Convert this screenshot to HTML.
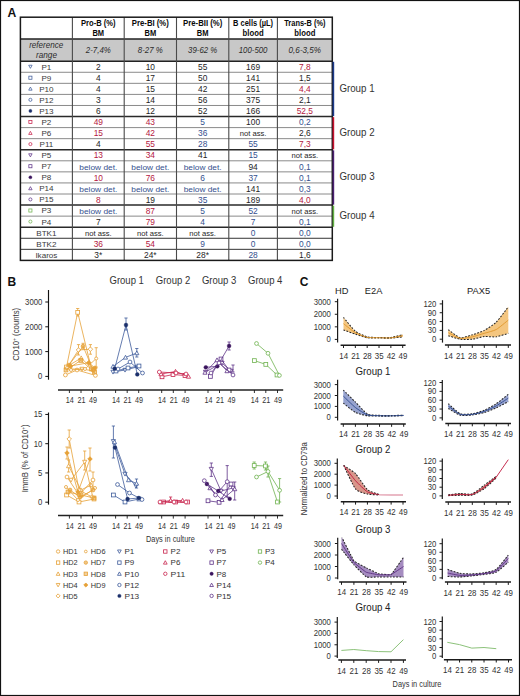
<!DOCTYPE html><html><head><meta charset="utf-8"><style>html,body{margin:0;padding:0;background:#fff;}svg{display:block;}text{font-family:"Liberation Sans", sans-serif;}</style></head><body>
<svg width="520" height="696" viewBox="0 0 520 696">
<rect x="0" y="0" width="520" height="696" fill="#fff"/>
<rect x="0.5" y="0.5" width="519" height="695" fill="none" stroke="#111" stroke-width="1.2"/>
<text x="11.8" y="16.6" font-size="12" fill="#111" text-anchor="middle" font-weight="bold" textLength="8.8" lengthAdjust="spacingAndGlyphs">A</text>
<rect x="20.4" y="39.0" width="311.9" height="22.2" fill="#c8c8c8"/>
<line x1="20.4" y1="72.27" x2="332.3" y2="72.27" stroke="#8a8a8a" stroke-width="1"/>
<line x1="20.4" y1="83.33" x2="332.3" y2="83.33" stroke="#8a8a8a" stroke-width="1"/>
<line x1="20.4" y1="94.4" x2="332.3" y2="94.4" stroke="#8a8a8a" stroke-width="1"/>
<line x1="20.4" y1="105.47" x2="332.3" y2="105.47" stroke="#8a8a8a" stroke-width="1"/>
<line x1="20.4" y1="116.53" x2="332.3" y2="116.53" stroke="#2a2a2a" stroke-width="1.5"/>
<line x1="20.4" y1="127.6" x2="332.3" y2="127.6" stroke="#8a8a8a" stroke-width="1"/>
<line x1="20.4" y1="138.67" x2="332.3" y2="138.67" stroke="#8a8a8a" stroke-width="1"/>
<line x1="20.4" y1="149.73" x2="332.3" y2="149.73" stroke="#2a2a2a" stroke-width="1.5"/>
<line x1="20.4" y1="160.8" x2="332.3" y2="160.8" stroke="#8a8a8a" stroke-width="1"/>
<line x1="20.4" y1="171.87" x2="332.3" y2="171.87" stroke="#8a8a8a" stroke-width="1"/>
<line x1="20.4" y1="182.93" x2="332.3" y2="182.93" stroke="#8a8a8a" stroke-width="1"/>
<line x1="20.4" y1="194" x2="332.3" y2="194" stroke="#8a8a8a" stroke-width="1"/>
<line x1="20.4" y1="205.07" x2="332.3" y2="205.07" stroke="#2a2a2a" stroke-width="1.5"/>
<line x1="20.4" y1="216.13" x2="332.3" y2="216.13" stroke="#8a8a8a" stroke-width="1"/>
<line x1="20.4" y1="227.2" x2="332.3" y2="227.2" stroke="#2a2a2a" stroke-width="1.5"/>
<line x1="20.4" y1="238.27" x2="332.3" y2="238.27" stroke="#333" stroke-width="1"/>
<line x1="20.4" y1="249.33" x2="332.3" y2="249.33" stroke="#333" stroke-width="1"/>
<line x1="20.4" y1="39" x2="332.3" y2="39" stroke="#222" stroke-width="1.4"/>
<line x1="20.4" y1="61.2" x2="332.3" y2="61.2" stroke="#222" stroke-width="1.4"/>
<line x1="72.4" y1="17.2" x2="72.4" y2="260.4" stroke="#4a4a4a" stroke-width="1.1"/>
<line x1="124.2" y1="17.2" x2="124.2" y2="260.4" stroke="#4a4a4a" stroke-width="1.1"/>
<line x1="176.5" y1="17.2" x2="176.5" y2="260.4" stroke="#4a4a4a" stroke-width="1.1"/>
<line x1="228.8" y1="17.2" x2="228.8" y2="260.4" stroke="#4a4a4a" stroke-width="1.1"/>
<line x1="277.4" y1="17.2" x2="277.4" y2="260.4" stroke="#4a4a4a" stroke-width="1.1"/>
<rect x="20.4" y="17.2" width="311.9" height="243.2" fill="none" stroke="#1a1a1a" stroke-width="1.5"/>
<text x="98.3" y="26.3" font-size="8.3" fill="#0a0a0a" text-anchor="middle" font-weight="bold" textLength="34.6" lengthAdjust="spacingAndGlyphs">Pro-B (%)</text>
<text x="98.3" y="35.8" font-size="8.3" fill="#0a0a0a" text-anchor="middle" font-weight="bold" textLength="11.7" lengthAdjust="spacingAndGlyphs">BM</text>
<text x="150.35" y="26.3" font-size="8.3" fill="#0a0a0a" text-anchor="middle" font-weight="bold" textLength="37" lengthAdjust="spacingAndGlyphs">Pre-BI (%)</text>
<text x="150.35" y="35.8" font-size="8.3" fill="#0a0a0a" text-anchor="middle" font-weight="bold" textLength="11.7" lengthAdjust="spacingAndGlyphs">BM</text>
<text x="202.65" y="26.3" font-size="8.3" fill="#0a0a0a" text-anchor="middle" font-weight="bold" textLength="39.2" lengthAdjust="spacingAndGlyphs">Pre-BII (%)</text>
<text x="202.65" y="35.8" font-size="8.3" fill="#0a0a0a" text-anchor="middle" font-weight="bold" textLength="11.7" lengthAdjust="spacingAndGlyphs">BM</text>
<text x="253.1" y="26.3" font-size="8.3" fill="#0a0a0a" text-anchor="middle" font-weight="bold" textLength="40" lengthAdjust="spacingAndGlyphs">B cells (µL)</text>
<text x="253.1" y="35.8" font-size="8.3" fill="#0a0a0a" text-anchor="middle" font-weight="bold" textLength="21" lengthAdjust="spacingAndGlyphs">blood</text>
<text x="304.85" y="26.3" font-size="8.3" fill="#0a0a0a" text-anchor="middle" font-weight="bold" textLength="41.2" lengthAdjust="spacingAndGlyphs">Trans-B (%)</text>
<text x="304.85" y="35.8" font-size="8.3" fill="#0a0a0a" text-anchor="middle" font-weight="bold" textLength="21" lengthAdjust="spacingAndGlyphs">blood</text>
<text x="46.2" y="48.2" font-size="8.3" fill="#2c2c2c" text-anchor="middle" font-style="italic" textLength="34" lengthAdjust="spacingAndGlyphs">reference</text>
<text x="46.5" y="57.6" font-size="8.3" fill="#2c2c2c" text-anchor="middle" font-style="italic" textLength="21" lengthAdjust="spacingAndGlyphs">range</text>
<text x="98.3" y="53.4" font-size="8.3" fill="#2c2c2c" text-anchor="middle" font-style="italic" textLength="25" lengthAdjust="spacingAndGlyphs">2-7,4%</text>
<text x="150.35" y="53.4" font-size="8.3" fill="#2c2c2c" text-anchor="middle" font-style="italic" textLength="25" lengthAdjust="spacingAndGlyphs">8-27 %</text>
<text x="202.65" y="53.4" font-size="8.3" fill="#2c2c2c" text-anchor="middle" font-style="italic" textLength="29.2" lengthAdjust="spacingAndGlyphs">39-62 %</text>
<text x="253.1" y="53.4" font-size="8.3" fill="#2c2c2c" text-anchor="middle" font-style="italic" textLength="28.8" lengthAdjust="spacingAndGlyphs">100-500</text>
<text x="304.85" y="53.4" font-size="8.3" fill="#2c2c2c" text-anchor="middle" font-style="italic" textLength="32.5" lengthAdjust="spacingAndGlyphs">0,6-3,5%</text>
<polygon points="30.4,68.34 32.1,65.24 28.69,65.24" fill="#fff" stroke="#3d5b9a" stroke-width="0.75"/>
<text x="46.4" y="69.6" font-size="8.1" fill="#3a3a3a" text-anchor="middle">P1</text>
<text x="98.3" y="69.9" font-size="8.4" fill="#1e1e1e" text-anchor="middle">2</text>
<text x="150.35" y="69.9" font-size="8.4" fill="#1e1e1e" text-anchor="middle">10</text>
<text x="202.65" y="69.9" font-size="8.4" fill="#1e1e1e" text-anchor="middle">55</text>
<text x="253.1" y="69.9" font-size="8.4" fill="#1e1e1e" text-anchor="middle">169</text>
<text x="304.85" y="69.9" font-size="8.4" fill="#b5173e" text-anchor="middle">7,8</text>
<rect x="28.85" y="76.15" width="3.1" height="3.1" fill="#fff" stroke="#3d5b9a" stroke-width="0.75"/>
<text x="46.4" y="80.67" font-size="8.1" fill="#3a3a3a" text-anchor="middle">P9</text>
<text x="98.3" y="80.97" font-size="8.4" fill="#1e1e1e" text-anchor="middle">4</text>
<text x="150.35" y="80.97" font-size="8.4" fill="#1e1e1e" text-anchor="middle">17</text>
<text x="202.65" y="80.97" font-size="8.4" fill="#1e1e1e" text-anchor="middle">50</text>
<text x="253.1" y="80.97" font-size="8.4" fill="#1e1e1e" text-anchor="middle">141</text>
<text x="304.85" y="80.97" font-size="8.4" fill="#1e1e1e" text-anchor="middle">1,5</text>
<polygon points="30.4,87.06 32.1,90.16 28.69,90.16" fill="#fff" stroke="#3d5b9a" stroke-width="0.75"/>
<text x="46.4" y="91.73" font-size="8.1" fill="#3a3a3a" text-anchor="middle">P10</text>
<text x="98.3" y="92.03" font-size="8.4" fill="#1e1e1e" text-anchor="middle">4</text>
<text x="150.35" y="92.03" font-size="8.4" fill="#1e1e1e" text-anchor="middle">15</text>
<text x="202.65" y="92.03" font-size="8.4" fill="#1e1e1e" text-anchor="middle">42</text>
<text x="253.1" y="92.03" font-size="8.4" fill="#1e1e1e" text-anchor="middle">251</text>
<text x="304.85" y="92.03" font-size="8.4" fill="#b5173e" text-anchor="middle">4,4</text>
<circle cx="30.4" cy="99.83" r="1.55" fill="#fff" stroke="#3d5b9a" stroke-width="0.75"/>
<text x="46.4" y="102.8" font-size="8.1" fill="#3a3a3a" text-anchor="middle">P12</text>
<text x="98.3" y="103.1" font-size="8.4" fill="#1e1e1e" text-anchor="middle">3</text>
<text x="150.35" y="103.1" font-size="8.4" fill="#1e1e1e" text-anchor="middle">14</text>
<text x="202.65" y="103.1" font-size="8.4" fill="#1e1e1e" text-anchor="middle">56</text>
<text x="253.1" y="103.1" font-size="8.4" fill="#1e1e1e" text-anchor="middle">375</text>
<text x="304.85" y="103.1" font-size="8.4" fill="#1e1e1e" text-anchor="middle">2,1</text>
<circle cx="30.4" cy="110.9" r="1.55" fill="#1b2f6b" stroke="#1b2f6b" stroke-width="0.38"/>
<text x="46.4" y="113.87" font-size="8.1" fill="#3a3a3a" text-anchor="middle">P13</text>
<text x="98.3" y="114.17" font-size="8.4" fill="#1e1e1e" text-anchor="middle">6</text>
<text x="150.35" y="114.17" font-size="8.4" fill="#1e1e1e" text-anchor="middle">12</text>
<text x="202.65" y="114.17" font-size="8.4" fill="#1e1e1e" text-anchor="middle">52</text>
<text x="253.1" y="114.17" font-size="8.4" fill="#1e1e1e" text-anchor="middle">166</text>
<text x="304.85" y="114.17" font-size="8.4" fill="#b5173e" text-anchor="middle">52,5</text>
<rect x="28.85" y="120.42" width="3.1" height="3.1" fill="#fff" stroke="#c8234d" stroke-width="0.75"/>
<text x="46.4" y="124.93" font-size="8.1" fill="#3a3a3a" text-anchor="middle">P2</text>
<text x="98.3" y="125.23" font-size="8.4" fill="#b5173e" text-anchor="middle">49</text>
<text x="150.35" y="125.23" font-size="8.4" fill="#b5173e" text-anchor="middle">43</text>
<text x="202.65" y="125.23" font-size="8.4" fill="#34508e" text-anchor="middle">5</text>
<text x="253.1" y="125.23" font-size="8.4" fill="#1e1e1e" text-anchor="middle">100</text>
<text x="304.85" y="125.23" font-size="8.4" fill="#34508e" text-anchor="middle">0,2</text>
<polygon points="30.4,131.33 32.1,134.43 28.69,134.43" fill="#fff" stroke="#c8234d" stroke-width="0.75"/>
<text x="46.4" y="136" font-size="8.1" fill="#3a3a3a" text-anchor="middle">P6</text>
<text x="98.3" y="136.3" font-size="8.4" fill="#b5173e" text-anchor="middle">15</text>
<text x="150.35" y="136.3" font-size="8.4" fill="#b5173e" text-anchor="middle">42</text>
<text x="202.65" y="136.3" font-size="8.4" fill="#34508e" text-anchor="middle">36</text>
<text x="253.1" y="136.3" font-size="7.8" fill="#1e1e1e" text-anchor="middle" textLength="26.7" lengthAdjust="spacingAndGlyphs">not ass.</text>
<text x="304.85" y="136.3" font-size="8.4" fill="#1e1e1e" text-anchor="middle">2,6</text>
<circle cx="30.4" cy="144.1" r="1.55" fill="#fff" stroke="#c8234d" stroke-width="0.75"/>
<text x="46.4" y="147.07" font-size="8.1" fill="#3a3a3a" text-anchor="middle">P11</text>
<text x="98.3" y="147.37" font-size="8.4" fill="#1e1e1e" text-anchor="middle">4</text>
<text x="150.35" y="147.37" font-size="8.4" fill="#b5173e" text-anchor="middle">55</text>
<text x="202.65" y="147.37" font-size="8.4" fill="#34508e" text-anchor="middle">28</text>
<text x="253.1" y="147.37" font-size="8.4" fill="#34508e" text-anchor="middle">55</text>
<text x="304.85" y="147.37" font-size="8.4" fill="#b5173e" text-anchor="middle">7,3</text>
<polygon points="30.4,156.87 32.1,153.77 28.69,153.77" fill="#fff" stroke="#5e3388" stroke-width="0.75"/>
<text x="46.4" y="158.13" font-size="8.1" fill="#3a3a3a" text-anchor="middle">P5</text>
<text x="98.3" y="158.43" font-size="8.4" fill="#b5173e" text-anchor="middle">13</text>
<text x="150.35" y="158.43" font-size="8.4" fill="#b5173e" text-anchor="middle">34</text>
<text x="202.65" y="158.43" font-size="8.4" fill="#1e1e1e" text-anchor="middle">41</text>
<text x="253.1" y="158.43" font-size="8.4" fill="#34508e" text-anchor="middle">15</text>
<text x="304.85" y="158.43" font-size="7.8" fill="#1e1e1e" text-anchor="middle" textLength="26.7" lengthAdjust="spacingAndGlyphs">not ass.</text>
<rect x="28.85" y="164.68" width="3.1" height="3.1" fill="#fff" stroke="#5e3388" stroke-width="0.75"/>
<text x="46.4" y="169.2" font-size="8.1" fill="#3a3a3a" text-anchor="middle">P7</text>
<text x="98.3" y="169.5" font-size="7.8" fill="#34508e" text-anchor="middle" textLength="38" lengthAdjust="spacingAndGlyphs">below det.</text>
<text x="150.35" y="169.5" font-size="7.8" fill="#34508e" text-anchor="middle" textLength="38" lengthAdjust="spacingAndGlyphs">below det.</text>
<text x="202.65" y="169.5" font-size="7.8" fill="#34508e" text-anchor="middle" textLength="38" lengthAdjust="spacingAndGlyphs">below det.</text>
<text x="253.1" y="169.5" font-size="8.4" fill="#1e1e1e" text-anchor="middle">94</text>
<text x="304.85" y="169.5" font-size="8.4" fill="#34508e" text-anchor="middle">0,1</text>
<circle cx="30.4" cy="177.3" r="1.55" fill="#3b145e" stroke="#3b145e" stroke-width="0.38"/>
<text x="46.4" y="180.27" font-size="8.1" fill="#3a3a3a" text-anchor="middle">P8</text>
<text x="98.3" y="180.57" font-size="8.4" fill="#b5173e" text-anchor="middle">10</text>
<text x="150.35" y="180.57" font-size="8.4" fill="#b5173e" text-anchor="middle">76</text>
<text x="202.65" y="180.57" font-size="8.4" fill="#34508e" text-anchor="middle">6</text>
<text x="253.1" y="180.57" font-size="8.4" fill="#34508e" text-anchor="middle">37</text>
<text x="304.85" y="180.57" font-size="8.4" fill="#34508e" text-anchor="middle">0,1</text>
<polygon points="30.4,186.66 32.1,189.76 28.69,189.76" fill="#fff" stroke="#5e3388" stroke-width="0.75"/>
<text x="46.4" y="191.33" font-size="8.1" fill="#3a3a3a" text-anchor="middle">P14</text>
<text x="98.3" y="191.63" font-size="7.8" fill="#34508e" text-anchor="middle" textLength="38" lengthAdjust="spacingAndGlyphs">below det.</text>
<text x="150.35" y="191.63" font-size="7.8" fill="#34508e" text-anchor="middle" textLength="38" lengthAdjust="spacingAndGlyphs">below det.</text>
<text x="202.65" y="191.63" font-size="7.8" fill="#34508e" text-anchor="middle" textLength="38" lengthAdjust="spacingAndGlyphs">below det.</text>
<text x="253.1" y="191.63" font-size="8.4" fill="#1e1e1e" text-anchor="middle">141</text>
<text x="304.85" y="191.63" font-size="8.4" fill="#34508e" text-anchor="middle">0,3</text>
<circle cx="30.4" cy="199.43" r="1.55" fill="#fff" stroke="#5e3388" stroke-width="0.75"/>
<text x="46.4" y="202.4" font-size="8.1" fill="#3a3a3a" text-anchor="middle">P15</text>
<text x="98.3" y="202.7" font-size="8.4" fill="#b5173e" text-anchor="middle">8</text>
<text x="150.35" y="202.7" font-size="8.4" fill="#1e1e1e" text-anchor="middle">19</text>
<text x="202.65" y="202.7" font-size="8.4" fill="#34508e" text-anchor="middle">35</text>
<text x="253.1" y="202.7" font-size="8.4" fill="#1e1e1e" text-anchor="middle">189</text>
<text x="304.85" y="202.7" font-size="8.4" fill="#b5173e" text-anchor="middle">4,0</text>
<rect x="28.85" y="208.95" width="3.1" height="3.1" fill="#fff" stroke="#6fb24f" stroke-width="0.75"/>
<text x="46.4" y="213.47" font-size="8.1" fill="#3a3a3a" text-anchor="middle">P3</text>
<text x="98.3" y="213.77" font-size="7.8" fill="#34508e" text-anchor="middle" textLength="38" lengthAdjust="spacingAndGlyphs">below det.</text>
<text x="150.35" y="213.77" font-size="8.4" fill="#b5173e" text-anchor="middle">87</text>
<text x="202.65" y="213.77" font-size="8.4" fill="#34508e" text-anchor="middle">5</text>
<text x="253.1" y="213.77" font-size="8.4" fill="#34508e" text-anchor="middle">52</text>
<text x="304.85" y="213.77" font-size="7.8" fill="#1e1e1e" text-anchor="middle" textLength="26.7" lengthAdjust="spacingAndGlyphs">not ass.</text>
<circle cx="30.4" cy="221.57" r="1.55" fill="#fff" stroke="#6fb24f" stroke-width="0.75"/>
<text x="46.4" y="224.53" font-size="8.1" fill="#3a3a3a" text-anchor="middle">P4</text>
<text x="98.3" y="224.83" font-size="8.4" fill="#1e1e1e" text-anchor="middle">7</text>
<text x="150.35" y="224.83" font-size="8.4" fill="#b5173e" text-anchor="middle">79</text>
<text x="202.65" y="224.83" font-size="8.4" fill="#34508e" text-anchor="middle">4</text>
<text x="253.1" y="224.83" font-size="8.4" fill="#34508e" text-anchor="middle">7</text>
<text x="304.85" y="224.83" font-size="8.4" fill="#34508e" text-anchor="middle">0,1</text>
<text x="46.4" y="235.6" font-size="8.1" fill="#3a3a3a" text-anchor="middle">BTK1</text>
<text x="98.3" y="235.9" font-size="7.8" fill="#1e1e1e" text-anchor="middle" textLength="26.7" lengthAdjust="spacingAndGlyphs">not ass.</text>
<text x="150.35" y="235.9" font-size="7.8" fill="#1e1e1e" text-anchor="middle" textLength="26.7" lengthAdjust="spacingAndGlyphs">not ass.</text>
<text x="202.65" y="235.9" font-size="7.8" fill="#1e1e1e" text-anchor="middle" textLength="26.7" lengthAdjust="spacingAndGlyphs">not ass.</text>
<text x="253.1" y="235.9" font-size="8.4" fill="#34508e" text-anchor="middle">0</text>
<text x="304.85" y="235.9" font-size="8.4" fill="#34508e" text-anchor="middle">0,0</text>
<text x="46.4" y="246.67" font-size="8.1" fill="#3a3a3a" text-anchor="middle">BTK2</text>
<text x="98.3" y="246.97" font-size="8.4" fill="#b5173e" text-anchor="middle">36</text>
<text x="150.35" y="246.97" font-size="8.4" fill="#b5173e" text-anchor="middle">54</text>
<text x="202.65" y="246.97" font-size="8.4" fill="#34508e" text-anchor="middle">9</text>
<text x="253.1" y="246.97" font-size="8.4" fill="#34508e" text-anchor="middle">0</text>
<text x="304.85" y="246.97" font-size="8.4" fill="#34508e" text-anchor="middle">0,0</text>
<text x="46.4" y="257.73" font-size="8.1" fill="#3a3a3a" text-anchor="middle">Ikaros</text>
<text x="98.3" y="258.03" font-size="8.4" fill="#1e1e1e" text-anchor="middle">3*</text>
<text x="150.35" y="258.03" font-size="8.4" fill="#1e1e1e" text-anchor="middle">24*</text>
<text x="202.65" y="258.03" font-size="8.4" fill="#1e1e1e" text-anchor="middle">28*</text>
<text x="253.1" y="258.03" font-size="8.4" fill="#34508e" text-anchor="middle">28</text>
<text x="304.85" y="258.03" font-size="8.4" fill="#1e1e1e" text-anchor="middle">1,6</text>
<rect x="332.6" y="61.8" width="1.6" height="54.33" fill="#1b3a8c"/>
<text x="339.4" y="91.57" font-size="10.3" fill="#333" text-anchor="start" textLength="35.2" lengthAdjust="spacingAndGlyphs">Group 1</text>
<rect x="332.6" y="117.13" width="1.6" height="32.2" fill="#c8102e"/>
<text x="339.4" y="135.83" font-size="10.3" fill="#333" text-anchor="start" textLength="35.2" lengthAdjust="spacingAndGlyphs">Group 2</text>
<rect x="332.6" y="150.33" width="1.6" height="54.33" fill="#4b1f73"/>
<text x="339.4" y="180.1" font-size="10.3" fill="#333" text-anchor="start" textLength="35.2" lengthAdjust="spacingAndGlyphs">Group 3</text>
<rect x="332.6" y="205.67" width="1.6" height="21.13" fill="#62b043"/>
<text x="339.4" y="218.83" font-size="10.3" fill="#333" text-anchor="start" textLength="35.2" lengthAdjust="spacingAndGlyphs">Group 4</text>
<text x="11.9" y="285.5" font-size="12" fill="#111" text-anchor="middle" font-weight="bold">B</text>
<text x="109.5" y="284.2" font-size="10.4" fill="#333" text-anchor="start" textLength="34.4" lengthAdjust="spacingAndGlyphs">Group 1</text>
<text x="155.8" y="284.2" font-size="10.4" fill="#333" text-anchor="start" textLength="34.4" lengthAdjust="spacingAndGlyphs">Group 2</text>
<text x="201.9" y="284.2" font-size="10.4" fill="#333" text-anchor="start" textLength="34.4" lengthAdjust="spacingAndGlyphs">Group 3</text>
<text x="248" y="284.2" font-size="10.4" fill="#333" text-anchor="start" textLength="34.4" lengthAdjust="spacingAndGlyphs">Group 4</text>
<line x1="48.5" y1="290" x2="48.5" y2="379.7" stroke="#111" stroke-width="1.15"/>
<line x1="45.3" y1="376.4" x2="48.5" y2="376.4" stroke="#111" stroke-width="1"/>
<text x="42.3" y="379.3" font-size="8.2" fill="#333" text-anchor="end" textLength="4.3" lengthAdjust="spacingAndGlyphs">0</text>
<line x1="45.3" y1="351.6" x2="48.5" y2="351.6" stroke="#111" stroke-width="1"/>
<text x="42.3" y="354.5" font-size="8.2" fill="#333" text-anchor="end" textLength="17.2" lengthAdjust="spacingAndGlyphs">1000</text>
<line x1="45.3" y1="326.8" x2="48.5" y2="326.8" stroke="#111" stroke-width="1"/>
<text x="42.3" y="329.7" font-size="8.2" fill="#333" text-anchor="end" textLength="17.2" lengthAdjust="spacingAndGlyphs">2000</text>
<line x1="45.3" y1="302" x2="48.5" y2="302" stroke="#111" stroke-width="1"/>
<text x="42.3" y="304.9" font-size="8.2" fill="#333" text-anchor="end" textLength="17.2" lengthAdjust="spacingAndGlyphs">3000</text>
<line x1="58" y1="390" x2="283.2" y2="390" stroke="#222" stroke-width="1.5"/>
<line x1="69.4" y1="390" x2="69.4" y2="393" stroke="#1a1a1a" stroke-width="0.9"/>
<text x="69.8" y="403" font-size="8.2" fill="#333" text-anchor="middle" textLength="8" lengthAdjust="spacingAndGlyphs">14</text>
<line x1="81" y1="390" x2="81" y2="393" stroke="#1a1a1a" stroke-width="0.9"/>
<text x="81.4" y="403" font-size="8.2" fill="#333" text-anchor="middle" textLength="8" lengthAdjust="spacingAndGlyphs">21</text>
<line x1="92.5" y1="390" x2="92.5" y2="393" stroke="#1a1a1a" stroke-width="0.9"/>
<text x="92.9" y="403" font-size="8.2" fill="#333" text-anchor="middle" textLength="8" lengthAdjust="spacingAndGlyphs">49</text>
<line x1="115.6" y1="390" x2="115.6" y2="393" stroke="#1a1a1a" stroke-width="0.9"/>
<text x="116" y="403" font-size="8.2" fill="#333" text-anchor="middle" textLength="8" lengthAdjust="spacingAndGlyphs">14</text>
<line x1="127.2" y1="390" x2="127.2" y2="393" stroke="#1a1a1a" stroke-width="0.9"/>
<text x="127.6" y="403" font-size="8.2" fill="#333" text-anchor="middle" textLength="8" lengthAdjust="spacingAndGlyphs">21</text>
<line x1="138.7" y1="390" x2="138.7" y2="393" stroke="#1a1a1a" stroke-width="0.9"/>
<text x="139.1" y="403" font-size="8.2" fill="#333" text-anchor="middle" textLength="8" lengthAdjust="spacingAndGlyphs">49</text>
<line x1="161.7" y1="390" x2="161.7" y2="393" stroke="#1a1a1a" stroke-width="0.9"/>
<text x="162.1" y="403" font-size="8.2" fill="#333" text-anchor="middle" textLength="8" lengthAdjust="spacingAndGlyphs">14</text>
<line x1="173.3" y1="390" x2="173.3" y2="393" stroke="#1a1a1a" stroke-width="0.9"/>
<text x="173.7" y="403" font-size="8.2" fill="#333" text-anchor="middle" textLength="8" lengthAdjust="spacingAndGlyphs">21</text>
<line x1="185.1" y1="390" x2="185.1" y2="393" stroke="#1a1a1a" stroke-width="0.9"/>
<text x="185.5" y="403" font-size="8.2" fill="#333" text-anchor="middle" textLength="8" lengthAdjust="spacingAndGlyphs">49</text>
<line x1="208" y1="390" x2="208" y2="393" stroke="#1a1a1a" stroke-width="0.9"/>
<text x="208.4" y="403" font-size="8.2" fill="#333" text-anchor="middle" textLength="8" lengthAdjust="spacingAndGlyphs">14</text>
<line x1="219.5" y1="390" x2="219.5" y2="393" stroke="#1a1a1a" stroke-width="0.9"/>
<text x="219.9" y="403" font-size="8.2" fill="#333" text-anchor="middle" textLength="8" lengthAdjust="spacingAndGlyphs">21</text>
<line x1="231" y1="390" x2="231" y2="393" stroke="#1a1a1a" stroke-width="0.9"/>
<text x="231.4" y="403" font-size="8.2" fill="#333" text-anchor="middle" textLength="8" lengthAdjust="spacingAndGlyphs">49</text>
<line x1="254.4" y1="390" x2="254.4" y2="393" stroke="#1a1a1a" stroke-width="0.9"/>
<text x="254.8" y="403" font-size="8.2" fill="#333" text-anchor="middle" textLength="8" lengthAdjust="spacingAndGlyphs">14</text>
<line x1="265.8" y1="390" x2="265.8" y2="393" stroke="#1a1a1a" stroke-width="0.9"/>
<text x="266.2" y="403" font-size="8.2" fill="#333" text-anchor="middle" textLength="8" lengthAdjust="spacingAndGlyphs">21</text>
<line x1="277.5" y1="390" x2="277.5" y2="393" stroke="#1a1a1a" stroke-width="0.9"/>
<text x="277.9" y="403" font-size="8.2" fill="#333" text-anchor="middle" textLength="8" lengthAdjust="spacingAndGlyphs">49</text>
<line x1="48.5" y1="412.5" x2="48.5" y2="504.6" stroke="#111" stroke-width="1.15"/>
<line x1="45.3" y1="502.2" x2="48.5" y2="502.2" stroke="#111" stroke-width="1"/>
<text x="42.3" y="505.1" font-size="8.2" fill="#333" text-anchor="end" textLength="4.3" lengthAdjust="spacingAndGlyphs">0</text>
<line x1="45.3" y1="472.95" x2="48.5" y2="472.95" stroke="#111" stroke-width="1"/>
<text x="42.3" y="475.85" font-size="8.2" fill="#333" text-anchor="end" textLength="4.3" lengthAdjust="spacingAndGlyphs">5</text>
<line x1="45.3" y1="443.7" x2="48.5" y2="443.7" stroke="#111" stroke-width="1"/>
<text x="42.3" y="446.6" font-size="8.2" fill="#333" text-anchor="end" textLength="8.6" lengthAdjust="spacingAndGlyphs">10</text>
<line x1="45.3" y1="414.45" x2="48.5" y2="414.45" stroke="#111" stroke-width="1"/>
<text x="42.3" y="417.35" font-size="8.2" fill="#333" text-anchor="end" textLength="8.6" lengthAdjust="spacingAndGlyphs">15</text>
<line x1="58" y1="515.6" x2="283.2" y2="515.6" stroke="#222" stroke-width="1.5"/>
<line x1="69.4" y1="515.6" x2="69.4" y2="518.6" stroke="#1a1a1a" stroke-width="0.9"/>
<text x="69.8" y="528.6" font-size="8.2" fill="#333" text-anchor="middle" textLength="8" lengthAdjust="spacingAndGlyphs">14</text>
<line x1="81" y1="515.6" x2="81" y2="518.6" stroke="#1a1a1a" stroke-width="0.9"/>
<text x="81.4" y="528.6" font-size="8.2" fill="#333" text-anchor="middle" textLength="8" lengthAdjust="spacingAndGlyphs">21</text>
<line x1="92.5" y1="515.6" x2="92.5" y2="518.6" stroke="#1a1a1a" stroke-width="0.9"/>
<text x="92.9" y="528.6" font-size="8.2" fill="#333" text-anchor="middle" textLength="8" lengthAdjust="spacingAndGlyphs">49</text>
<line x1="115.6" y1="515.6" x2="115.6" y2="518.6" stroke="#1a1a1a" stroke-width="0.9"/>
<text x="116" y="528.6" font-size="8.2" fill="#333" text-anchor="middle" textLength="8" lengthAdjust="spacingAndGlyphs">14</text>
<line x1="127.2" y1="515.6" x2="127.2" y2="518.6" stroke="#1a1a1a" stroke-width="0.9"/>
<text x="127.6" y="528.6" font-size="8.2" fill="#333" text-anchor="middle" textLength="8" lengthAdjust="spacingAndGlyphs">21</text>
<line x1="138.7" y1="515.6" x2="138.7" y2="518.6" stroke="#1a1a1a" stroke-width="0.9"/>
<text x="139.1" y="528.6" font-size="8.2" fill="#333" text-anchor="middle" textLength="8" lengthAdjust="spacingAndGlyphs">49</text>
<line x1="161.7" y1="515.6" x2="161.7" y2="518.6" stroke="#1a1a1a" stroke-width="0.9"/>
<text x="162.1" y="528.6" font-size="8.2" fill="#333" text-anchor="middle" textLength="8" lengthAdjust="spacingAndGlyphs">14</text>
<line x1="173.3" y1="515.6" x2="173.3" y2="518.6" stroke="#1a1a1a" stroke-width="0.9"/>
<text x="173.7" y="528.6" font-size="8.2" fill="#333" text-anchor="middle" textLength="8" lengthAdjust="spacingAndGlyphs">21</text>
<line x1="185.1" y1="515.6" x2="185.1" y2="518.6" stroke="#1a1a1a" stroke-width="0.9"/>
<text x="185.5" y="528.6" font-size="8.2" fill="#333" text-anchor="middle" textLength="8" lengthAdjust="spacingAndGlyphs">49</text>
<line x1="208" y1="515.6" x2="208" y2="518.6" stroke="#1a1a1a" stroke-width="0.9"/>
<text x="208.4" y="528.6" font-size="8.2" fill="#333" text-anchor="middle" textLength="8" lengthAdjust="spacingAndGlyphs">14</text>
<line x1="219.5" y1="515.6" x2="219.5" y2="518.6" stroke="#1a1a1a" stroke-width="0.9"/>
<text x="219.9" y="528.6" font-size="8.2" fill="#333" text-anchor="middle" textLength="8" lengthAdjust="spacingAndGlyphs">21</text>
<line x1="231" y1="515.6" x2="231" y2="518.6" stroke="#1a1a1a" stroke-width="0.9"/>
<text x="231.4" y="528.6" font-size="8.2" fill="#333" text-anchor="middle" textLength="8" lengthAdjust="spacingAndGlyphs">49</text>
<line x1="254.4" y1="515.6" x2="254.4" y2="518.6" stroke="#1a1a1a" stroke-width="0.9"/>
<text x="254.8" y="528.6" font-size="8.2" fill="#333" text-anchor="middle" textLength="8" lengthAdjust="spacingAndGlyphs">14</text>
<line x1="265.8" y1="515.6" x2="265.8" y2="518.6" stroke="#1a1a1a" stroke-width="0.9"/>
<text x="266.2" y="528.6" font-size="8.2" fill="#333" text-anchor="middle" textLength="8" lengthAdjust="spacingAndGlyphs">21</text>
<line x1="277.5" y1="515.6" x2="277.5" y2="518.6" stroke="#1a1a1a" stroke-width="0.9"/>
<text x="277.9" y="528.6" font-size="8.2" fill="#333" text-anchor="middle" textLength="8" lengthAdjust="spacingAndGlyphs">49</text>
<text x="19.0" y="334.3" font-size="8.6" fill="#333" text-anchor="middle" transform="rotate(-90 19.0 334.3)" textLength="53" lengthAdjust="spacingAndGlyphs">CD10<tspan font-size="5.5" dy="-3.2">+</tspan><tspan dy="3.2"> (counts)</tspan></text>
<text x="28.4" y="458.3" font-size="8.8" fill="#333" text-anchor="middle" transform="rotate(-90 28.4 458.3)" textLength="68" lengthAdjust="spacingAndGlyphs">ImmB (% of CD10<tspan font-size="5.5" dy="-3.2">+</tspan><tspan dy="3.2">)</tspan></text>
<text x="170.4" y="541.7" font-size="9.3" fill="#333" text-anchor="middle" textLength="48.8" lengthAdjust="spacingAndGlyphs">Days in culture</text>
<polyline points="65.4,375 77,370 95.4,375.4" fill="none" stroke="#e6a137" stroke-width="0.8"/>
<circle cx="65.4" cy="375" r="1.9" fill="#fff" stroke="#e6a137" stroke-width="0.8"/>
<circle cx="77" cy="370" r="1.9" fill="#fff" stroke="#e6a137" stroke-width="0.8"/>
<circle cx="95.4" cy="375.4" r="1.9" fill="#fff" stroke="#e6a137" stroke-width="0.8"/>
<polyline points="66.5,367 77.7,312.3 91.5,369" fill="none" stroke="#e6a137" stroke-width="0.8"/>
<line x1="77.7" y1="308.5" x2="77.7" y2="316" stroke="#e6a137" stroke-width="0.8"/>
<line x1="76.1" y1="308.5" x2="79.3" y2="308.5" stroke="#e6a137" stroke-width="0.8"/>
<line x1="76.1" y1="316" x2="79.3" y2="316" stroke="#e6a137" stroke-width="0.8"/>
<rect x="64.6" y="365.1" width="3.8" height="3.8" fill="#fff" stroke="#e6a137" stroke-width="0.8"/>
<rect x="75.8" y="310.4" width="3.8" height="3.8" fill="#fff" stroke="#e6a137" stroke-width="0.8"/>
<rect x="89.6" y="367.1" width="3.8" height="3.8" fill="#fff" stroke="#e6a137" stroke-width="0.8"/>
<polyline points="68,366 81.2,358 92.5,369" fill="none" stroke="#e6a137" stroke-width="0.8"/>
<polygon points="68,363.91 70.09,367.71 65.91,367.71" fill="#fff" stroke="#e6a137" stroke-width="0.8"/>
<polygon points="81.2,355.91 83.29,359.71 79.11,359.71" fill="#fff" stroke="#e6a137" stroke-width="0.8"/>
<polygon points="92.5,366.91 94.59,370.71 90.41,370.71" fill="#fff" stroke="#e6a137" stroke-width="0.8"/>
<polyline points="70,369 82,369 94,371" fill="none" stroke="#e6a137" stroke-width="0.8"/>
<polygon points="70,371.09 72.09,367.29 67.91,367.29" fill="#fff" stroke="#e6a137" stroke-width="0.8"/>
<polygon points="82,371.09 84.09,367.29 79.91,367.29" fill="#fff" stroke="#e6a137" stroke-width="0.8"/>
<polygon points="94,373.09 96.09,369.29 91.91,369.29" fill="#fff" stroke="#e6a137" stroke-width="0.8"/>
<polyline points="67,368 78.5,350 90.4,349.2" fill="none" stroke="#e6a137" stroke-width="0.8"/>
<line x1="78.5" y1="344.6" x2="78.5" y2="355" stroke="#e6a137" stroke-width="0.8"/>
<line x1="76.9" y1="344.6" x2="80.1" y2="344.6" stroke="#e6a137" stroke-width="0.8"/>
<line x1="76.9" y1="355" x2="80.1" y2="355" stroke="#e6a137" stroke-width="0.8"/>
<line x1="90.4" y1="344.6" x2="90.4" y2="354.2" stroke="#e6a137" stroke-width="0.8"/>
<line x1="88.8" y1="344.6" x2="92" y2="344.6" stroke="#e6a137" stroke-width="0.8"/>
<line x1="88.8" y1="354.2" x2="92" y2="354.2" stroke="#e6a137" stroke-width="0.8"/>
<polygon points="67,365.72 69.28,368 67,370.28 64.72,368" fill="#fff" stroke="#e6a137" stroke-width="0.8"/>
<polygon points="78.5,347.72 80.78,350 78.5,352.28 76.22,350" fill="#fff" stroke="#e6a137" stroke-width="0.8"/>
<polygon points="90.4,346.92 92.68,349.2 90.4,351.48 88.12,349.2" fill="#fff" stroke="#e6a137" stroke-width="0.8"/>
<polyline points="71,370 85,369 96.2,358.5" fill="none" stroke="#e6a137" stroke-width="0.8"/>
<line x1="96.2" y1="347.7" x2="96.2" y2="367" stroke="#e6a137" stroke-width="0.8"/>
<line x1="94.6" y1="347.7" x2="97.8" y2="347.7" stroke="#e6a137" stroke-width="0.8"/>
<line x1="94.6" y1="367" x2="97.8" y2="367" stroke="#e6a137" stroke-width="0.8"/>
<circle cx="71" cy="370" r="1.52" fill="#fff" stroke="#e6a137" stroke-width="0.8"/>
<circle cx="85" cy="369" r="1.52" fill="#fff" stroke="#e6a137" stroke-width="0.8"/>
<circle cx="96.2" cy="358.5" r="1.52" fill="#fff" stroke="#e6a137" stroke-width="0.8"/>
<polyline points="69,365 83.1,346.2 93,370" fill="none" stroke="#e6a137" stroke-width="0.8"/>
<line x1="83.1" y1="343.3" x2="83.1" y2="349" stroke="#e6a137" stroke-width="0.8"/>
<line x1="81.5" y1="343.3" x2="84.7" y2="343.3" stroke="#e6a137" stroke-width="0.8"/>
<line x1="81.5" y1="349" x2="84.7" y2="349" stroke="#e6a137" stroke-width="0.8"/>
<circle cx="69" cy="365" r="1.9" fill="#e6a137" fill-opacity="0.6" stroke="#e6a137" stroke-width="0.8"/>
<circle cx="83.1" cy="346.2" r="1.9" fill="#e6a137" fill-opacity="0.6" stroke="#e6a137" stroke-width="0.8"/>
<circle cx="93" cy="370" r="1.9" fill="#e6a137" fill-opacity="0.6" stroke="#e6a137" stroke-width="0.8"/>
<polyline points="66,370 80.8,360.4 94.5,372" fill="none" stroke="#e6a137" stroke-width="0.8"/>
<rect x="64.1" y="368.1" width="3.8" height="3.8" fill="#e6a137" fill-opacity="0.5" stroke="#e6a137" stroke-width="0.8"/>
<rect x="78.9" y="358.5" width="3.8" height="3.8" fill="#e6a137" fill-opacity="0.5" stroke="#e6a137" stroke-width="0.8"/>
<rect x="92.6" y="370.1" width="3.8" height="3.8" fill="#e6a137" fill-opacity="0.5" stroke="#e6a137" stroke-width="0.8"/>
<polyline points="70.5,366 88.8,362.7 95,368" fill="none" stroke="#e6a137" stroke-width="0.8"/>
<polygon points="70.5,363.72 72.78,366 70.5,368.28 68.22,366" fill="#e6a137" stroke="#e6a137" stroke-width="0.8"/>
<polygon points="88.8,360.42 91.08,362.7 88.8,364.98 86.52,362.7" fill="#e6a137" stroke="#e6a137" stroke-width="0.8"/>
<polygon points="95,365.72 97.28,368 95,370.28 92.72,368" fill="#e6a137" stroke="#e6a137" stroke-width="0.8"/>
<polyline points="113,372 125,370 137,367" fill="none" stroke="#3d5b9a" stroke-width="0.8"/>
<polygon points="113,374.09 115.09,370.29 110.91,370.29" fill="#fff" stroke="#3d5b9a" stroke-width="0.8"/>
<polygon points="125,372.09 127.09,368.29 122.91,368.29" fill="#fff" stroke="#3d5b9a" stroke-width="0.8"/>
<polygon points="137,369.09 139.09,365.29 134.91,365.29" fill="#fff" stroke="#3d5b9a" stroke-width="0.8"/>
<polyline points="116,371 128,368 139,366" fill="none" stroke="#3d5b9a" stroke-width="0.8"/>
<rect x="114.1" y="369.1" width="3.8" height="3.8" fill="#fff" stroke="#3d5b9a" stroke-width="0.8"/>
<rect x="126.1" y="366.1" width="3.8" height="3.8" fill="#fff" stroke="#3d5b9a" stroke-width="0.8"/>
<rect x="137.1" y="364.1" width="3.8" height="3.8" fill="#fff" stroke="#3d5b9a" stroke-width="0.8"/>
<polyline points="113,366.5 125.5,357.4 136.8,353" fill="none" stroke="#3d5b9a" stroke-width="0.8"/>
<line x1="136.8" y1="348.5" x2="136.8" y2="357" stroke="#3d5b9a" stroke-width="0.8"/>
<line x1="135.2" y1="348.5" x2="138.4" y2="348.5" stroke="#3d5b9a" stroke-width="0.8"/>
<line x1="135.2" y1="357" x2="138.4" y2="357" stroke="#3d5b9a" stroke-width="0.8"/>
<polygon points="113,364.41 115.09,368.21 110.91,368.21" fill="#fff" stroke="#3d5b9a" stroke-width="0.8"/>
<polygon points="125.5,355.31 127.59,359.11 123.41,359.11" fill="#fff" stroke="#3d5b9a" stroke-width="0.8"/>
<polygon points="136.8,350.91 138.89,354.71 134.71,354.71" fill="#fff" stroke="#3d5b9a" stroke-width="0.8"/>
<polyline points="118,369 130,362 142.5,373" fill="none" stroke="#3d5b9a" stroke-width="0.8"/>
<circle cx="118" cy="369" r="1.9" fill="#fff" stroke="#3d5b9a" stroke-width="0.8"/>
<circle cx="130" cy="362" r="1.9" fill="#fff" stroke="#3d5b9a" stroke-width="0.8"/>
<circle cx="142.5" cy="373" r="1.9" fill="#fff" stroke="#3d5b9a" stroke-width="0.8"/>
<polyline points="114.7,368.7 126,325 137.3,374.4" fill="none" stroke="#3d5b9a" stroke-width="0.8"/>
<line x1="126" y1="318" x2="126" y2="330" stroke="#3d5b9a" stroke-width="0.8"/>
<line x1="124.4" y1="318" x2="127.6" y2="318" stroke="#3d5b9a" stroke-width="0.8"/>
<line x1="124.4" y1="330" x2="127.6" y2="330" stroke="#3d5b9a" stroke-width="0.8"/>
<circle cx="114.7" cy="368.7" r="1.9" fill="#1b2f6b" stroke="#1b2f6b" stroke-width="0.4"/>
<circle cx="126" cy="325" r="1.9" fill="#1b2f6b" stroke="#1b2f6b" stroke-width="0.4"/>
<circle cx="137.3" cy="374.4" r="1.9" fill="#1b2f6b" stroke="#1b2f6b" stroke-width="0.4"/>
<polyline points="162,376.8 173,374.5 185,375.5" fill="none" stroke="#c8234d" stroke-width="0.8"/>
<rect x="160.1" y="374.9" width="3.8" height="3.8" fill="#fff" stroke="#c8234d" stroke-width="0.8"/>
<rect x="171.1" y="372.6" width="3.8" height="3.8" fill="#fff" stroke="#c8234d" stroke-width="0.8"/>
<rect x="183.1" y="373.6" width="3.8" height="3.8" fill="#fff" stroke="#c8234d" stroke-width="0.8"/>
<polyline points="161,374 175.5,371.5 188.5,376.5" fill="none" stroke="#c8234d" stroke-width="0.8"/>
<polygon points="161,371.91 163.09,375.71 158.91,375.71" fill="#fff" stroke="#c8234d" stroke-width="0.8"/>
<polygon points="175.5,369.41 177.59,373.21 173.41,373.21" fill="#fff" stroke="#c8234d" stroke-width="0.8"/>
<polygon points="188.5,374.41 190.59,378.21 186.41,378.21" fill="#fff" stroke="#c8234d" stroke-width="0.8"/>
<polyline points="159.3,372 176,373 186,374" fill="none" stroke="#c8234d" stroke-width="0.8"/>
<circle cx="159.3" cy="372" r="1.9" fill="#fff" stroke="#c8234d" stroke-width="0.8"/>
<circle cx="176" cy="373" r="1.9" fill="#fff" stroke="#c8234d" stroke-width="0.8"/>
<circle cx="186" cy="374" r="1.9" fill="#fff" stroke="#c8234d" stroke-width="0.8"/>
<polyline points="205.5,372 222,363 231,371" fill="none" stroke="#5e3388" stroke-width="0.8"/>
<polygon points="205.5,374.09 207.59,370.29 203.41,370.29" fill="#fff" stroke="#5e3388" stroke-width="0.8"/>
<polygon points="222,365.09 224.09,361.29 219.91,361.29" fill="#fff" stroke="#5e3388" stroke-width="0.8"/>
<polygon points="231,373.09 233.09,369.29 228.91,369.29" fill="#fff" stroke="#5e3388" stroke-width="0.8"/>
<polyline points="210.4,376.4 221,359 229,370" fill="none" stroke="#5e3388" stroke-width="0.8"/>
<rect x="208.5" y="374.5" width="3.8" height="3.8" fill="#fff" stroke="#5e3388" stroke-width="0.8"/>
<rect x="219.1" y="357.1" width="3.8" height="3.8" fill="#fff" stroke="#5e3388" stroke-width="0.8"/>
<rect x="227.1" y="368.1" width="3.8" height="3.8" fill="#fff" stroke="#5e3388" stroke-width="0.8"/>
<polyline points="205.8,367.3 217.3,366.3 229.1,345.9" fill="none" stroke="#5e3388" stroke-width="0.8"/>
<line x1="229.1" y1="342" x2="229.1" y2="350" stroke="#5e3388" stroke-width="0.8"/>
<line x1="227.5" y1="342" x2="230.7" y2="342" stroke="#5e3388" stroke-width="0.8"/>
<line x1="227.5" y1="350" x2="230.7" y2="350" stroke="#5e3388" stroke-width="0.8"/>
<circle cx="205.8" cy="367.3" r="1.9" fill="#3b145e" stroke="#3b145e" stroke-width="0.4"/>
<circle cx="217.3" cy="366.3" r="1.9" fill="#3b145e" stroke="#3b145e" stroke-width="0.4"/>
<circle cx="229.1" cy="345.9" r="1.9" fill="#3b145e" stroke="#3b145e" stroke-width="0.4"/>
<polyline points="205,372.5 217,360 227,371" fill="none" stroke="#5e3388" stroke-width="0.8"/>
<polygon points="205,370.41 207.09,374.21 202.91,374.21" fill="#fff" stroke="#5e3388" stroke-width="0.8"/>
<polygon points="217,357.91 219.09,361.71 214.91,361.71" fill="#fff" stroke="#5e3388" stroke-width="0.8"/>
<polygon points="227,368.91 229.09,372.71 224.91,372.71" fill="#fff" stroke="#5e3388" stroke-width="0.8"/>
<polyline points="211,373 219,363 233,375" fill="none" stroke="#5e3388" stroke-width="0.8"/>
<line x1="233" y1="365" x2="233" y2="372" stroke="#5e3388" stroke-width="0.8"/>
<line x1="231.4" y1="365" x2="234.6" y2="365" stroke="#5e3388" stroke-width="0.8"/>
<line x1="231.4" y1="372" x2="234.6" y2="372" stroke="#5e3388" stroke-width="0.8"/>
<circle cx="211" cy="373" r="1.9" fill="#fff" stroke="#5e3388" stroke-width="0.8"/>
<circle cx="219" cy="363" r="1.9" fill="#fff" stroke="#5e3388" stroke-width="0.8"/>
<circle cx="233" cy="375" r="1.9" fill="#fff" stroke="#5e3388" stroke-width="0.8"/>
<polyline points="254.4,360.6 265.8,364.4 277,375" fill="none" stroke="#6fb24f" stroke-width="0.8"/>
<rect x="252.5" y="358.7" width="3.8" height="3.8" fill="#fff" stroke="#6fb24f" stroke-width="0.8"/>
<rect x="263.9" y="362.5" width="3.8" height="3.8" fill="#fff" stroke="#6fb24f" stroke-width="0.8"/>
<rect x="275.1" y="373.1" width="3.8" height="3.8" fill="#fff" stroke="#6fb24f" stroke-width="0.8"/>
<polyline points="256.5,343.5 268,353.3 279.4,375.4" fill="none" stroke="#6fb24f" stroke-width="0.8"/>
<circle cx="256.5" cy="343.5" r="1.9" fill="#fff" stroke="#6fb24f" stroke-width="0.8"/>
<circle cx="268" cy="353.3" r="1.9" fill="#fff" stroke="#6fb24f" stroke-width="0.8"/>
<circle cx="279.4" cy="375.4" r="1.9" fill="#fff" stroke="#6fb24f" stroke-width="0.8"/>
<polyline points="67,477 79,495 93,480" fill="none" stroke="#e6a137" stroke-width="0.8"/>
<line x1="93" y1="472" x2="93" y2="488" stroke="#e6a137" stroke-width="0.8"/>
<line x1="91.4" y1="472" x2="94.6" y2="472" stroke="#e6a137" stroke-width="0.8"/>
<line x1="91.4" y1="488" x2="94.6" y2="488" stroke="#e6a137" stroke-width="0.8"/>
<circle cx="67" cy="477" r="1.9" fill="#fff" stroke="#e6a137" stroke-width="0.8"/>
<circle cx="79" cy="495" r="1.9" fill="#fff" stroke="#e6a137" stroke-width="0.8"/>
<circle cx="93" cy="480" r="1.9" fill="#fff" stroke="#e6a137" stroke-width="0.8"/>
<polyline points="66.6,495 79,502 94,499" fill="none" stroke="#e6a137" stroke-width="0.8"/>
<rect x="64.7" y="493.1" width="3.8" height="3.8" fill="#fff" stroke="#e6a137" stroke-width="0.8"/>
<rect x="77.1" y="500.1" width="3.8" height="3.8" fill="#fff" stroke="#e6a137" stroke-width="0.8"/>
<rect x="92.1" y="497.1" width="3.8" height="3.8" fill="#fff" stroke="#e6a137" stroke-width="0.8"/>
<polyline points="68.6,466 81,490 91,485" fill="none" stroke="#e6a137" stroke-width="0.8"/>
<line x1="68.6" y1="460" x2="68.6" y2="472" stroke="#e6a137" stroke-width="0.8"/>
<line x1="67" y1="460" x2="70.2" y2="460" stroke="#e6a137" stroke-width="0.8"/>
<line x1="67" y1="472" x2="70.2" y2="472" stroke="#e6a137" stroke-width="0.8"/>
<polygon points="68.6,463.91 70.69,467.71 66.51,467.71" fill="#fff" stroke="#e6a137" stroke-width="0.8"/>
<polygon points="81,487.91 83.09,491.71 78.91,491.71" fill="#fff" stroke="#e6a137" stroke-width="0.8"/>
<polygon points="91,482.91 93.09,486.71 88.91,486.71" fill="#fff" stroke="#e6a137" stroke-width="0.8"/>
<polyline points="71,480 84.7,462 93,498" fill="none" stroke="#e6a137" stroke-width="0.8"/>
<line x1="84.7" y1="451" x2="84.7" y2="470" stroke="#e6a137" stroke-width="0.8"/>
<line x1="83.1" y1="451" x2="86.3" y2="451" stroke="#e6a137" stroke-width="0.8"/>
<line x1="83.1" y1="470" x2="86.3" y2="470" stroke="#e6a137" stroke-width="0.8"/>
<polygon points="71,482.09 73.09,478.29 68.91,478.29" fill="#fff" stroke="#e6a137" stroke-width="0.8"/>
<polygon points="84.7,464.09 86.79,460.29 82.61,460.29" fill="#fff" stroke="#e6a137" stroke-width="0.8"/>
<polygon points="93,500.09 95.09,496.29 90.91,496.29" fill="#fff" stroke="#e6a137" stroke-width="0.8"/>
<polyline points="69.2,439 79,490 92,497" fill="none" stroke="#e6a137" stroke-width="0.8"/>
<line x1="69.2" y1="430" x2="69.2" y2="448" stroke="#e6a137" stroke-width="0.8"/>
<line x1="67.6" y1="430" x2="70.8" y2="430" stroke="#e6a137" stroke-width="0.8"/>
<line x1="67.6" y1="448" x2="70.8" y2="448" stroke="#e6a137" stroke-width="0.8"/>
<polygon points="69.2,436.72 71.48,439 69.2,441.28 66.92,439" fill="#fff" stroke="#e6a137" stroke-width="0.8"/>
<polygon points="79,487.72 81.28,490 79,492.28 76.72,490" fill="#fff" stroke="#e6a137" stroke-width="0.8"/>
<polygon points="92,494.72 94.28,497 92,499.28 89.72,497" fill="#fff" stroke="#e6a137" stroke-width="0.8"/>
<polyline points="66,487 78,500 95,488" fill="none" stroke="#e6a137" stroke-width="0.8"/>
<circle cx="66" cy="487" r="1.52" fill="#fff" stroke="#e6a137" stroke-width="0.8"/>
<circle cx="78" cy="500" r="1.52" fill="#fff" stroke="#e6a137" stroke-width="0.8"/>
<circle cx="95" cy="488" r="1.52" fill="#fff" stroke="#e6a137" stroke-width="0.8"/>
<polyline points="70,490 80,497 93,490" fill="none" stroke="#e6a137" stroke-width="0.8"/>
<circle cx="70" cy="490" r="1.9" fill="#e6a137" fill-opacity="0.6" stroke="#e6a137" stroke-width="0.8"/>
<circle cx="80" cy="497" r="1.9" fill="#e6a137" fill-opacity="0.6" stroke="#e6a137" stroke-width="0.8"/>
<circle cx="93" cy="490" r="1.9" fill="#e6a137" fill-opacity="0.6" stroke="#e6a137" stroke-width="0.8"/>
<polyline points="68,492 81,495 94,498" fill="none" stroke="#e6a137" stroke-width="0.8"/>
<rect x="66.1" y="490.1" width="3.8" height="3.8" fill="#e6a137" fill-opacity="0.5" stroke="#e6a137" stroke-width="0.8"/>
<rect x="79.1" y="493.1" width="3.8" height="3.8" fill="#e6a137" fill-opacity="0.5" stroke="#e6a137" stroke-width="0.8"/>
<rect x="92.1" y="496.1" width="3.8" height="3.8" fill="#e6a137" fill-opacity="0.5" stroke="#e6a137" stroke-width="0.8"/>
<polyline points="67,453 78,492 90,459" fill="none" stroke="#e6a137" stroke-width="0.8"/>
<line x1="67" y1="447" x2="67" y2="459" stroke="#e6a137" stroke-width="0.8"/>
<line x1="65.4" y1="447" x2="68.6" y2="447" stroke="#e6a137" stroke-width="0.8"/>
<line x1="65.4" y1="459" x2="68.6" y2="459" stroke="#e6a137" stroke-width="0.8"/>
<line x1="90" y1="448" x2="90" y2="471" stroke="#e6a137" stroke-width="0.8"/>
<line x1="88.4" y1="448" x2="91.6" y2="448" stroke="#e6a137" stroke-width="0.8"/>
<line x1="88.4" y1="471" x2="91.6" y2="471" stroke="#e6a137" stroke-width="0.8"/>
<polygon points="67,450.72 69.28,453 67,455.28 64.72,453" fill="#e6a137" stroke="#e6a137" stroke-width="0.8"/>
<polygon points="78,489.72 80.28,492 78,494.28 75.72,492" fill="#e6a137" stroke="#e6a137" stroke-width="0.8"/>
<polygon points="90,456.72 92.28,459 90,461.28 87.72,459" fill="#e6a137" stroke="#e6a137" stroke-width="0.8"/>
<polyline points="113.4,441.3 125,474 136,486" fill="none" stroke="#3d5b9a" stroke-width="0.8"/>
<line x1="113.4" y1="426" x2="113.4" y2="458" stroke="#3d5b9a" stroke-width="0.8"/>
<line x1="111.8" y1="426" x2="115" y2="426" stroke="#3d5b9a" stroke-width="0.8"/>
<line x1="111.8" y1="458" x2="115" y2="458" stroke="#3d5b9a" stroke-width="0.8"/>
<polygon points="113.4,443.39 115.49,439.59 111.31,439.59" fill="#fff" stroke="#3d5b9a" stroke-width="0.8"/>
<polygon points="125,476.09 127.09,472.29 122.91,472.29" fill="#fff" stroke="#3d5b9a" stroke-width="0.8"/>
<polygon points="136,488.09 138.09,484.29 133.91,484.29" fill="#fff" stroke="#3d5b9a" stroke-width="0.8"/>
<polyline points="113.4,495 125,502 139,499" fill="none" stroke="#3d5b9a" stroke-width="0.8"/>
<rect x="111.5" y="493.1" width="3.8" height="3.8" fill="#fff" stroke="#3d5b9a" stroke-width="0.8"/>
<rect x="123.1" y="500.1" width="3.8" height="3.8" fill="#fff" stroke="#3d5b9a" stroke-width="0.8"/>
<rect x="137.1" y="497.1" width="3.8" height="3.8" fill="#fff" stroke="#3d5b9a" stroke-width="0.8"/>
<polyline points="114.5,442 128.6,480 136.5,483.5" fill="none" stroke="#3d5b9a" stroke-width="0.8"/>
<line x1="136.5" y1="479" x2="136.5" y2="488" stroke="#3d5b9a" stroke-width="0.8"/>
<line x1="134.9" y1="479" x2="138.1" y2="479" stroke="#3d5b9a" stroke-width="0.8"/>
<line x1="134.9" y1="488" x2="138.1" y2="488" stroke="#3d5b9a" stroke-width="0.8"/>
<polygon points="114.5,439.91 116.59,443.71 112.41,443.71" fill="#fff" stroke="#3d5b9a" stroke-width="0.8"/>
<polygon points="128.6,477.91 130.69,481.71 126.51,481.71" fill="#fff" stroke="#3d5b9a" stroke-width="0.8"/>
<polygon points="136.5,481.41 138.59,485.21 134.41,485.21" fill="#fff" stroke="#3d5b9a" stroke-width="0.8"/>
<polyline points="117.5,484.5 129.5,493 142,499.5" fill="none" stroke="#3d5b9a" stroke-width="0.8"/>
<circle cx="117.5" cy="484.5" r="1.9" fill="#fff" stroke="#3d5b9a" stroke-width="0.8"/>
<circle cx="129.5" cy="493" r="1.9" fill="#fff" stroke="#3d5b9a" stroke-width="0.8"/>
<circle cx="142" cy="499.5" r="1.9" fill="#fff" stroke="#3d5b9a" stroke-width="0.8"/>
<polyline points="115,447.6 127.6,499 138.8,498" fill="none" stroke="#3d5b9a" stroke-width="0.8"/>
<circle cx="115" cy="447.6" r="1.9" fill="#1b2f6b" stroke="#1b2f6b" stroke-width="0.4"/>
<circle cx="127.6" cy="499" r="1.9" fill="#1b2f6b" stroke="#1b2f6b" stroke-width="0.4"/>
<circle cx="138.8" cy="498" r="1.9" fill="#1b2f6b" stroke="#1b2f6b" stroke-width="0.4"/>
<polyline points="163.5,502 175.5,502 187.6,502" fill="none" stroke="#c8234d" stroke-width="0.8"/>
<rect x="161.6" y="500.1" width="3.8" height="3.8" fill="#fff" stroke="#c8234d" stroke-width="0.8"/>
<rect x="173.6" y="500.1" width="3.8" height="3.8" fill="#fff" stroke="#c8234d" stroke-width="0.8"/>
<rect x="185.7" y="500.1" width="3.8" height="3.8" fill="#fff" stroke="#c8234d" stroke-width="0.8"/>
<polyline points="160.5,502 170.6,500.5 182.6,500.5" fill="none" stroke="#c8234d" stroke-width="0.8"/>
<line x1="170.6" y1="497" x2="170.6" y2="502" stroke="#c8234d" stroke-width="0.8"/>
<line x1="169" y1="497" x2="172.2" y2="497" stroke="#c8234d" stroke-width="0.8"/>
<line x1="169" y1="502" x2="172.2" y2="502" stroke="#c8234d" stroke-width="0.8"/>
<polygon points="160.5,499.91 162.59,503.71 158.41,503.71" fill="#fff" stroke="#c8234d" stroke-width="0.8"/>
<polygon points="170.6,498.41 172.69,502.21 168.51,502.21" fill="#fff" stroke="#c8234d" stroke-width="0.8"/>
<polygon points="182.6,498.41 184.69,502.21 180.51,502.21" fill="#fff" stroke="#c8234d" stroke-width="0.8"/>
<polyline points="160,502 174,502 186,502" fill="none" stroke="#c8234d" stroke-width="0.8"/>
<circle cx="160" cy="502" r="1.9" fill="#fff" stroke="#c8234d" stroke-width="0.8"/>
<circle cx="174" cy="502" r="1.9" fill="#fff" stroke="#c8234d" stroke-width="0.8"/>
<circle cx="186" cy="502" r="1.9" fill="#fff" stroke="#c8234d" stroke-width="0.8"/>
<polyline points="211.3,469.1 221,491 233,488" fill="none" stroke="#5e3388" stroke-width="0.8"/>
<line x1="211.3" y1="463" x2="211.3" y2="476.4" stroke="#5e3388" stroke-width="0.8"/>
<line x1="209.7" y1="463" x2="212.9" y2="463" stroke="#5e3388" stroke-width="0.8"/>
<line x1="209.7" y1="476.4" x2="212.9" y2="476.4" stroke="#5e3388" stroke-width="0.8"/>
<polygon points="211.3,471.19 213.39,467.39 209.21,467.39" fill="#fff" stroke="#5e3388" stroke-width="0.8"/>
<polygon points="221,493.09 223.09,489.29 218.91,489.29" fill="#fff" stroke="#5e3388" stroke-width="0.8"/>
<polygon points="233,490.09 235.09,486.29 230.91,486.29" fill="#fff" stroke="#5e3388" stroke-width="0.8"/>
<polyline points="208,500.8 219.1,502.3 231,484" fill="none" stroke="#5e3388" stroke-width="0.8"/>
<rect x="206.1" y="498.9" width="3.8" height="3.8" fill="#fff" stroke="#5e3388" stroke-width="0.8"/>
<rect x="217.2" y="500.4" width="3.8" height="3.8" fill="#fff" stroke="#5e3388" stroke-width="0.8"/>
<rect x="229.1" y="482.1" width="3.8" height="3.8" fill="#fff" stroke="#5e3388" stroke-width="0.8"/>
<polyline points="206.9,484 218.3,491 229.7,498.8" fill="none" stroke="#5e3388" stroke-width="0.8"/>
<circle cx="206.9" cy="484" r="1.9" fill="#3b145e" stroke="#3b145e" stroke-width="0.4"/>
<circle cx="218.3" cy="491" r="1.9" fill="#3b145e" stroke="#3b145e" stroke-width="0.4"/>
<circle cx="229.7" cy="498.8" r="1.9" fill="#3b145e" stroke="#3b145e" stroke-width="0.4"/>
<polyline points="210,488 222,499.8 234.7,489" fill="none" stroke="#5e3388" stroke-width="0.8"/>
<line x1="234.7" y1="482" x2="234.7" y2="500" stroke="#5e3388" stroke-width="0.8"/>
<line x1="233.1" y1="482" x2="236.3" y2="482" stroke="#5e3388" stroke-width="0.8"/>
<line x1="233.1" y1="500" x2="236.3" y2="500" stroke="#5e3388" stroke-width="0.8"/>
<polygon points="210,485.91 212.09,489.71 207.91,489.71" fill="#fff" stroke="#5e3388" stroke-width="0.8"/>
<polygon points="222,497.71 224.09,501.51 219.91,501.51" fill="#fff" stroke="#5e3388" stroke-width="0.8"/>
<polygon points="234.7,486.91 236.79,490.71 232.61,490.71" fill="#fff" stroke="#5e3388" stroke-width="0.8"/>
<polyline points="204.3,480.7 215.5,495 227.2,481.7" fill="none" stroke="#5e3388" stroke-width="0.8"/>
<line x1="227.2" y1="465.6" x2="227.2" y2="497" stroke="#5e3388" stroke-width="0.8"/>
<line x1="225.6" y1="465.6" x2="228.8" y2="465.6" stroke="#5e3388" stroke-width="0.8"/>
<line x1="225.6" y1="497" x2="228.8" y2="497" stroke="#5e3388" stroke-width="0.8"/>
<circle cx="204.3" cy="480.7" r="1.9" fill="#fff" stroke="#5e3388" stroke-width="0.8"/>
<circle cx="215.5" cy="495" r="1.9" fill="#fff" stroke="#5e3388" stroke-width="0.8"/>
<circle cx="227.2" cy="481.7" r="1.9" fill="#fff" stroke="#5e3388" stroke-width="0.8"/>
<polyline points="254.2,465.5 265.5,466 277.5,502" fill="none" stroke="#6fb24f" stroke-width="0.8"/>
<line x1="254.2" y1="462" x2="254.2" y2="469" stroke="#6fb24f" stroke-width="0.8"/>
<line x1="252.6" y1="462" x2="255.8" y2="462" stroke="#6fb24f" stroke-width="0.8"/>
<line x1="252.6" y1="469" x2="255.8" y2="469" stroke="#6fb24f" stroke-width="0.8"/>
<line x1="265.5" y1="462" x2="265.5" y2="470" stroke="#6fb24f" stroke-width="0.8"/>
<line x1="263.9" y1="462" x2="267.1" y2="462" stroke="#6fb24f" stroke-width="0.8"/>
<line x1="263.9" y1="470" x2="267.1" y2="470" stroke="#6fb24f" stroke-width="0.8"/>
<rect x="252.3" y="463.6" width="3.8" height="3.8" fill="#fff" stroke="#6fb24f" stroke-width="0.8"/>
<rect x="263.6" y="464.1" width="3.8" height="3.8" fill="#fff" stroke="#6fb24f" stroke-width="0.8"/>
<rect x="275.6" y="500.1" width="3.8" height="3.8" fill="#fff" stroke="#6fb24f" stroke-width="0.8"/>
<polyline points="256.5,477 268,471.5 279.6,490.3" fill="none" stroke="#6fb24f" stroke-width="0.8"/>
<line x1="268" y1="466" x2="268" y2="477" stroke="#6fb24f" stroke-width="0.8"/>
<line x1="266.4" y1="466" x2="269.6" y2="466" stroke="#6fb24f" stroke-width="0.8"/>
<line x1="266.4" y1="477" x2="269.6" y2="477" stroke="#6fb24f" stroke-width="0.8"/>
<line x1="279.6" y1="478.6" x2="279.6" y2="502" stroke="#6fb24f" stroke-width="0.8"/>
<line x1="278" y1="478.6" x2="281.2" y2="478.6" stroke="#6fb24f" stroke-width="0.8"/>
<line x1="278" y1="502" x2="281.2" y2="502" stroke="#6fb24f" stroke-width="0.8"/>
<circle cx="256.5" cy="477" r="1.9" fill="#fff" stroke="#6fb24f" stroke-width="0.8"/>
<circle cx="268" cy="471.5" r="1.9" fill="#fff" stroke="#6fb24f" stroke-width="0.8"/>
<circle cx="279.6" cy="490.3" r="1.9" fill="#fff" stroke="#6fb24f" stroke-width="0.8"/>
<circle cx="58.1" cy="551.5" r="1.7" fill="#fff" stroke="#e6a137" stroke-width="0.8"/>
<text x="63" y="554.2" font-size="7.7" fill="#333" text-anchor="start" textLength="14.7" lengthAdjust="spacingAndGlyphs">HD1</text>
<rect x="56.4" y="560.9" width="3.4" height="3.4" fill="#fff" stroke="#e6a137" stroke-width="0.8"/>
<text x="63" y="565.3" font-size="7.7" fill="#333" text-anchor="start" textLength="14.7" lengthAdjust="spacingAndGlyphs">HD2</text>
<polygon points="58.1,571.93 59.97,575.33 56.23,575.33" fill="#fff" stroke="#e6a137" stroke-width="0.8"/>
<text x="63" y="576.5" font-size="7.7" fill="#333" text-anchor="start" textLength="14.7" lengthAdjust="spacingAndGlyphs">HD3</text>
<polygon points="58.1,586.87 59.97,583.47 56.23,583.47" fill="#fff" stroke="#e6a137" stroke-width="0.8"/>
<text x="63" y="587.7" font-size="7.7" fill="#333" text-anchor="start" textLength="14.7" lengthAdjust="spacingAndGlyphs">HD4</text>
<polygon points="58.1,593.86 60.14,595.9 58.1,597.94 56.06,595.9" fill="#fff" stroke="#e6a137" stroke-width="0.8"/>
<text x="63" y="598.6" font-size="7.7" fill="#333" text-anchor="start" textLength="14.7" lengthAdjust="spacingAndGlyphs">HD5</text>
<circle cx="85.8" cy="551.5" r="1.36" fill="#fff" stroke="#e6a137" stroke-width="0.8"/>
<text x="90.8" y="554.2" font-size="7.7" fill="#333" text-anchor="start" textLength="14.7" lengthAdjust="spacingAndGlyphs">HD6</text>
<circle cx="85.8" cy="562.6" r="1.7" fill="#e6a137" fill-opacity="0.6" stroke="#e6a137" stroke-width="0.8"/>
<text x="90.8" y="565.3" font-size="7.7" fill="#333" text-anchor="start" textLength="14.7" lengthAdjust="spacingAndGlyphs">HD7</text>
<rect x="84.1" y="572.1" width="3.4" height="3.4" fill="#e6a137" fill-opacity="0.5" stroke="#e6a137" stroke-width="0.8"/>
<text x="90.8" y="576.5" font-size="7.7" fill="#333" text-anchor="start" textLength="14.7" lengthAdjust="spacingAndGlyphs">HD8</text>
<polygon points="85.8,582.96 87.84,585 85.8,587.04 83.76,585" fill="#e6a137" stroke="#e6a137" stroke-width="0.8"/>
<text x="90.8" y="587.7" font-size="7.7" fill="#333" text-anchor="start" textLength="14.7" lengthAdjust="spacingAndGlyphs">HD9</text>
<polygon points="119.4,553.37 121.27,549.97 117.53,549.97" fill="#fff" stroke="#3d5b9a" stroke-width="0.8"/>
<text x="124.5" y="554.2" font-size="7.7" fill="#333" text-anchor="start" textLength="9.8" lengthAdjust="spacingAndGlyphs">P1</text>
<rect x="117.7" y="560.9" width="3.4" height="3.4" fill="#fff" stroke="#3d5b9a" stroke-width="0.8"/>
<text x="124.5" y="565.3" font-size="7.7" fill="#333" text-anchor="start" textLength="9.8" lengthAdjust="spacingAndGlyphs">P9</text>
<polygon points="119.4,571.93 121.27,575.33 117.53,575.33" fill="#fff" stroke="#3d5b9a" stroke-width="0.8"/>
<text x="124.5" y="576.5" font-size="7.7" fill="#333" text-anchor="start" textLength="14.7" lengthAdjust="spacingAndGlyphs">P10</text>
<circle cx="119.4" cy="585" r="1.7" fill="#fff" stroke="#3d5b9a" stroke-width="0.8"/>
<text x="124.5" y="587.7" font-size="7.7" fill="#333" text-anchor="start" textLength="14.7" lengthAdjust="spacingAndGlyphs">P12</text>
<circle cx="119.4" cy="595.9" r="1.7" fill="#1b2f6b" stroke="#1b2f6b" stroke-width="0.4"/>
<text x="124.5" y="598.6" font-size="7.7" fill="#333" text-anchor="start" textLength="14.7" lengthAdjust="spacingAndGlyphs">P13</text>
<rect x="163.6" y="549.8" width="3.4" height="3.4" fill="#fff" stroke="#c8234d" stroke-width="0.8"/>
<text x="170.6" y="554.2" font-size="7.7" fill="#333" text-anchor="start" textLength="9.8" lengthAdjust="spacingAndGlyphs">P2</text>
<polygon points="165.3,560.73 167.17,564.13 163.43,564.13" fill="#fff" stroke="#c8234d" stroke-width="0.8"/>
<text x="170.6" y="565.3" font-size="7.7" fill="#333" text-anchor="start" textLength="9.8" lengthAdjust="spacingAndGlyphs">P6</text>
<circle cx="165.3" cy="573.8" r="1.7" fill="#fff" stroke="#c8234d" stroke-width="0.8"/>
<text x="170.6" y="576.5" font-size="7.7" fill="#333" text-anchor="start" textLength="14.7" lengthAdjust="spacingAndGlyphs">P11</text>
<polygon points="211.6,553.37 213.47,549.97 209.73,549.97" fill="#fff" stroke="#5e3388" stroke-width="0.8"/>
<text x="216.4" y="554.2" font-size="7.7" fill="#333" text-anchor="start" textLength="9.8" lengthAdjust="spacingAndGlyphs">P5</text>
<rect x="209.9" y="560.9" width="3.4" height="3.4" fill="#fff" stroke="#5e3388" stroke-width="0.8"/>
<text x="216.4" y="565.3" font-size="7.7" fill="#333" text-anchor="start" textLength="9.8" lengthAdjust="spacingAndGlyphs">P7</text>
<circle cx="211.6" cy="573.8" r="1.7" fill="#3b145e" stroke="#3b145e" stroke-width="0.4"/>
<text x="216.4" y="576.5" font-size="7.7" fill="#333" text-anchor="start" textLength="9.8" lengthAdjust="spacingAndGlyphs">P8</text>
<polygon points="211.6,583.13 213.47,586.53 209.73,586.53" fill="#fff" stroke="#5e3388" stroke-width="0.8"/>
<text x="216.4" y="587.7" font-size="7.7" fill="#333" text-anchor="start" textLength="14.7" lengthAdjust="spacingAndGlyphs">P14</text>
<circle cx="211.6" cy="595.9" r="1.7" fill="#fff" stroke="#5e3388" stroke-width="0.8"/>
<text x="216.4" y="598.6" font-size="7.7" fill="#333" text-anchor="start" textLength="14.7" lengthAdjust="spacingAndGlyphs">P15</text>
<rect x="258.3" y="549.8" width="3.4" height="3.4" fill="#fff" stroke="#6fb24f" stroke-width="0.8"/>
<text x="265" y="554.2" font-size="7.7" fill="#333" text-anchor="start" textLength="9.8" lengthAdjust="spacingAndGlyphs">P3</text>
<circle cx="260" cy="562.6" r="1.7" fill="#fff" stroke="#6fb24f" stroke-width="0.8"/>
<text x="265" y="565.3" font-size="7.7" fill="#333" text-anchor="start" textLength="9.8" lengthAdjust="spacingAndGlyphs">P4</text>
<text x="304" y="285.6" font-size="12" fill="#111" text-anchor="middle" font-weight="bold">C</text>
<text x="335" y="293.6" font-size="9.3" fill="#222" text-anchor="start">HD</text>
<text x="364.8" y="293.6" font-size="9.3" fill="#222" text-anchor="start">E2A</text>
<text x="467" y="293.7" font-size="9.3" fill="#222" text-anchor="start">PAX5</text>
<text x="355.5" y="374.8" font-size="10.4" fill="#222" text-anchor="start" textLength="35" lengthAdjust="spacingAndGlyphs">Group 1</text>
<text x="355.5" y="453" font-size="10.4" fill="#222" text-anchor="start" textLength="35" lengthAdjust="spacingAndGlyphs">Group 2</text>
<text x="355.5" y="532.8" font-size="10.4" fill="#222" text-anchor="start" textLength="35" lengthAdjust="spacingAndGlyphs">Group 3</text>
<text x="355.5" y="610.8" font-size="10.4" fill="#222" text-anchor="start" textLength="35" lengthAdjust="spacingAndGlyphs">Group 4</text>
<text x="306.9" y="478.7" font-size="9.2" fill="#333" text-anchor="middle" transform="rotate(-90 306.9 478.7)" textLength="73" lengthAdjust="spacingAndGlyphs">Normalized to CD79a</text>
<text x="417" y="687.3" font-size="9.3" fill="#333" text-anchor="middle" textLength="48.8" lengthAdjust="spacingAndGlyphs">Days in culture</text>
<line x1="337.6" y1="298.8" x2="337.6" y2="342.6" stroke="#1a1a1a" stroke-width="1.2"/>
<line x1="334.8" y1="339.4" x2="337.6" y2="339.4" stroke="#1a1a1a" stroke-width="1"/>
<text x="330.9" y="342.4" font-size="8.3" fill="#333" text-anchor="end" textLength="4.3" lengthAdjust="spacingAndGlyphs">0</text>
<line x1="334.8" y1="326.83" x2="337.6" y2="326.83" stroke="#1a1a1a" stroke-width="1"/>
<text x="330.9" y="329.83" font-size="8.3" fill="#333" text-anchor="end" textLength="17.2" lengthAdjust="spacingAndGlyphs">1000</text>
<line x1="334.8" y1="314.27" x2="337.6" y2="314.27" stroke="#1a1a1a" stroke-width="1"/>
<text x="330.9" y="317.27" font-size="8.3" fill="#333" text-anchor="end" textLength="17.2" lengthAdjust="spacingAndGlyphs">2000</text>
<line x1="334.8" y1="301.7" x2="337.6" y2="301.7" stroke="#1a1a1a" stroke-width="1"/>
<text x="330.9" y="304.7" font-size="8.3" fill="#333" text-anchor="end" textLength="17.2" lengthAdjust="spacingAndGlyphs">3000</text>
<line x1="340.6" y1="345.2" x2="405.6" y2="345.2" stroke="#1a1a1a" stroke-width="1.5"/>
<line x1="343.5" y1="345.2" x2="343.5" y2="348" stroke="#1a1a1a" stroke-width="1"/>
<text x="343.7" y="358.6" font-size="8.6" fill="#333" text-anchor="middle" textLength="8.8" lengthAdjust="spacingAndGlyphs">14</text>
<line x1="355.34" y1="345.2" x2="355.34" y2="348" stroke="#1a1a1a" stroke-width="1"/>
<text x="355.54" y="358.6" font-size="8.6" fill="#333" text-anchor="middle" textLength="8.8" lengthAdjust="spacingAndGlyphs">21</text>
<line x1="367.18" y1="345.2" x2="367.18" y2="348" stroke="#1a1a1a" stroke-width="1"/>
<text x="367.38" y="358.6" font-size="8.6" fill="#333" text-anchor="middle" textLength="8.8" lengthAdjust="spacingAndGlyphs">28</text>
<line x1="379.02" y1="345.2" x2="379.02" y2="348" stroke="#1a1a1a" stroke-width="1"/>
<text x="379.22" y="358.6" font-size="8.6" fill="#333" text-anchor="middle" textLength="8.8" lengthAdjust="spacingAndGlyphs">35</text>
<line x1="390.86" y1="345.2" x2="390.86" y2="348" stroke="#1a1a1a" stroke-width="1"/>
<text x="391.06" y="358.6" font-size="8.6" fill="#333" text-anchor="middle" textLength="8.8" lengthAdjust="spacingAndGlyphs">42</text>
<line x1="402.7" y1="345.2" x2="402.7" y2="348" stroke="#1a1a1a" stroke-width="1"/>
<text x="402.9" y="358.6" font-size="8.6" fill="#333" text-anchor="middle" textLength="8.8" lengthAdjust="spacingAndGlyphs">49</text>
<g>
<path d="M343.5,317.41 C344.68,318.79 352.97,329.28 355.34,331.23 C357.71,333.18 364.81,336.26 367.18,336.89 C369.55,337.51 376.65,337.45 379.02,337.51 C381.39,337.58 388.49,337.8 390.86,337.51 C393.23,337.23 401.52,334.91 402.7,334.62 L402.7,336.89 C401.52,337.01 393.23,338.03 390.86,338.14 C388.49,338.26 381.39,338.06 379.02,338.02 C376.65,337.98 369.55,338.16 367.18,337.77 C364.81,337.38 357.71,334.9 355.34,334.12 C352.97,333.34 344.68,330.39 343.5,329.97 Z" fill="#f4c680" stroke="none"/>
<path d="M343.5,317.41 C344.68,318.79 352.97,329.28 355.34,331.23 C357.71,333.18 364.81,336.26 367.18,336.89 C369.55,337.51 376.65,337.45 379.02,337.51 C381.39,337.58 388.49,337.8 390.86,337.51 C393.23,337.23 401.52,334.91 402.7,334.62" fill="none" stroke="#262626" stroke-width="1.05" stroke-dasharray="1.8,1.4"/>
<path d="M343.5,329.97 C344.68,330.39 352.97,333.34 355.34,334.12 C357.71,334.9 364.81,337.38 367.18,337.77 C369.55,338.16 376.65,337.98 379.02,338.02 C381.39,338.06 388.49,338.26 390.86,338.14 C393.23,338.03 401.52,337.01 402.7,336.89" fill="none" stroke="#262626" stroke-width="1.05" stroke-dasharray="1.8,1.4"/>
<path d="M343.5,323.69 C344.68,324.6 352.97,331.37 355.34,332.74 C357.71,334.11 364.81,336.89 367.18,337.39 C369.55,337.89 376.65,337.72 379.02,337.77 C381.39,337.82 388.49,338.09 390.86,337.89 C393.23,337.69 401.52,335.97 402.7,335.76" fill="none" stroke="#e0962a" stroke-width="0.9"/>
</g>
<line x1="442.5" y1="300.2" x2="442.5" y2="342.6" stroke="#1a1a1a" stroke-width="1.2"/>
<line x1="439.7" y1="339.2" x2="442.5" y2="339.2" stroke="#1a1a1a" stroke-width="1"/>
<text x="436.4" y="342.2" font-size="8.3" fill="#333" text-anchor="end" textLength="4.3" lengthAdjust="spacingAndGlyphs">0</text>
<line x1="439.7" y1="330.38" x2="442.5" y2="330.38" stroke="#1a1a1a" stroke-width="1"/>
<text x="436.4" y="333.38" font-size="8.3" fill="#333" text-anchor="end" textLength="8.6" lengthAdjust="spacingAndGlyphs">30</text>
<line x1="439.7" y1="321.55" x2="442.5" y2="321.55" stroke="#1a1a1a" stroke-width="1"/>
<text x="436.4" y="324.55" font-size="8.3" fill="#333" text-anchor="end" textLength="8.6" lengthAdjust="spacingAndGlyphs">60</text>
<line x1="439.7" y1="312.72" x2="442.5" y2="312.72" stroke="#1a1a1a" stroke-width="1"/>
<text x="436.4" y="315.72" font-size="8.3" fill="#333" text-anchor="end" textLength="8.6" lengthAdjust="spacingAndGlyphs">90</text>
<line x1="439.7" y1="303.9" x2="442.5" y2="303.9" stroke="#1a1a1a" stroke-width="1"/>
<text x="436.4" y="306.9" font-size="8.3" fill="#333" text-anchor="end" textLength="12.9" lengthAdjust="spacingAndGlyphs">120</text>
<line x1="444.9" y1="345.1" x2="511" y2="345.1" stroke="#1a1a1a" stroke-width="1.5"/>
<line x1="448.3" y1="345.1" x2="448.3" y2="347.9" stroke="#1a1a1a" stroke-width="1"/>
<text x="448.5" y="358.5" font-size="8.6" fill="#333" text-anchor="middle" textLength="8.8" lengthAdjust="spacingAndGlyphs">14</text>
<line x1="460.3" y1="345.1" x2="460.3" y2="347.9" stroke="#1a1a1a" stroke-width="1"/>
<text x="460.5" y="358.5" font-size="8.6" fill="#333" text-anchor="middle" textLength="8.8" lengthAdjust="spacingAndGlyphs">21</text>
<line x1="472.3" y1="345.1" x2="472.3" y2="347.9" stroke="#1a1a1a" stroke-width="1"/>
<text x="472.5" y="358.5" font-size="8.6" fill="#333" text-anchor="middle" textLength="8.8" lengthAdjust="spacingAndGlyphs">28</text>
<line x1="484.3" y1="345.1" x2="484.3" y2="347.9" stroke="#1a1a1a" stroke-width="1"/>
<text x="484.5" y="358.5" font-size="8.6" fill="#333" text-anchor="middle" textLength="8.8" lengthAdjust="spacingAndGlyphs">35</text>
<line x1="496.3" y1="345.1" x2="496.3" y2="347.9" stroke="#1a1a1a" stroke-width="1"/>
<text x="496.5" y="358.5" font-size="8.6" fill="#333" text-anchor="middle" textLength="8.8" lengthAdjust="spacingAndGlyphs">42</text>
<line x1="508.3" y1="345.1" x2="508.3" y2="347.9" stroke="#1a1a1a" stroke-width="1"/>
<text x="508.5" y="358.5" font-size="8.6" fill="#333" text-anchor="middle" textLength="8.8" lengthAdjust="spacingAndGlyphs">49</text>
<g>
<path d="M448.3,329.79 C449.5,330.58 457.9,337.23 460.3,337.73 C462.7,338.23 469.9,335.52 472.3,334.79 C474.7,334.05 481.9,331.64 484.3,330.38 C486.7,329.11 493.9,324.49 496.3,322.14 C498.7,319.78 507.1,308.37 508.3,306.84 L508.3,333.32 C507.1,333.67 498.7,336.52 496.3,336.85 C493.9,337.17 486.7,336.32 484.3,336.55 C481.9,336.79 474.7,338.94 472.3,339.2 C469.9,339.46 462.7,339.55 460.3,339.2 C457.9,338.85 449.5,336.02 448.3,335.67 Z" fill="#f4c680" stroke="none"/>
<path d="M448.3,329.79 C449.5,330.58 457.9,337.23 460.3,337.73 C462.7,338.23 469.9,335.52 472.3,334.79 C474.7,334.05 481.9,331.64 484.3,330.38 C486.7,329.11 493.9,324.49 496.3,322.14 C498.7,319.78 507.1,308.37 508.3,306.84" fill="none" stroke="#262626" stroke-width="1.05" stroke-dasharray="1.8,1.4"/>
<path d="M448.3,335.67 C449.5,336.02 457.9,338.85 460.3,339.2 C462.7,339.55 469.9,339.46 472.3,339.2 C474.7,338.94 481.9,336.79 484.3,336.55 C486.7,336.32 493.9,337.17 496.3,336.85 C498.7,336.52 507.1,333.67 508.3,333.32" fill="none" stroke="#262626" stroke-width="1.05" stroke-dasharray="1.8,1.4"/>
<path d="M448.3,332.73 C449.5,333.29 457.9,337.91 460.3,338.32 C462.7,338.73 469.9,337.35 472.3,336.85 C474.7,336.35 481.9,334.05 484.3,333.32 C486.7,332.58 493.9,330.82 496.3,329.49 C498.7,328.17 507.1,321.02 508.3,320.08" fill="none" stroke="#e0962a" stroke-width="0.9"/>
</g>
<line x1="337.6" y1="379.8" x2="337.6" y2="420.4" stroke="#1a1a1a" stroke-width="1.2"/>
<line x1="334.8" y1="417.3" x2="337.6" y2="417.3" stroke="#1a1a1a" stroke-width="1"/>
<text x="330.9" y="420.3" font-size="8.3" fill="#333" text-anchor="end" textLength="4.3" lengthAdjust="spacingAndGlyphs">0</text>
<line x1="334.8" y1="406.4" x2="337.6" y2="406.4" stroke="#1a1a1a" stroke-width="1"/>
<text x="330.9" y="409.4" font-size="8.3" fill="#333" text-anchor="end" textLength="17.2" lengthAdjust="spacingAndGlyphs">1000</text>
<line x1="334.8" y1="395.5" x2="337.6" y2="395.5" stroke="#1a1a1a" stroke-width="1"/>
<text x="330.9" y="398.5" font-size="8.3" fill="#333" text-anchor="end" textLength="17.2" lengthAdjust="spacingAndGlyphs">2000</text>
<line x1="334.8" y1="384.6" x2="337.6" y2="384.6" stroke="#1a1a1a" stroke-width="1"/>
<text x="330.9" y="387.6" font-size="8.3" fill="#333" text-anchor="end" textLength="17.2" lengthAdjust="spacingAndGlyphs">3000</text>
<line x1="340.6" y1="424" x2="405.8" y2="424" stroke="#1a1a1a" stroke-width="1.5"/>
<line x1="343.3" y1="424" x2="343.3" y2="426.8" stroke="#1a1a1a" stroke-width="1"/>
<text x="343.5" y="437.4" font-size="8.6" fill="#333" text-anchor="middle" textLength="8.8" lengthAdjust="spacingAndGlyphs">14</text>
<line x1="355.38" y1="424" x2="355.38" y2="426.8" stroke="#1a1a1a" stroke-width="1"/>
<text x="355.58" y="437.4" font-size="8.6" fill="#333" text-anchor="middle" textLength="8.8" lengthAdjust="spacingAndGlyphs">21</text>
<line x1="367.46" y1="424" x2="367.46" y2="426.8" stroke="#1a1a1a" stroke-width="1"/>
<text x="367.66" y="437.4" font-size="8.6" fill="#333" text-anchor="middle" textLength="8.8" lengthAdjust="spacingAndGlyphs">28</text>
<line x1="379.54" y1="424" x2="379.54" y2="426.8" stroke="#1a1a1a" stroke-width="1"/>
<text x="379.74" y="437.4" font-size="8.6" fill="#333" text-anchor="middle" textLength="8.8" lengthAdjust="spacingAndGlyphs">35</text>
<line x1="391.62" y1="424" x2="391.62" y2="426.8" stroke="#1a1a1a" stroke-width="1"/>
<text x="391.82" y="437.4" font-size="8.6" fill="#333" text-anchor="middle" textLength="8.8" lengthAdjust="spacingAndGlyphs">42</text>
<line x1="403.7" y1="424" x2="403.7" y2="426.8" stroke="#1a1a1a" stroke-width="1"/>
<text x="403.9" y="437.4" font-size="8.6" fill="#333" text-anchor="middle" textLength="8.8" lengthAdjust="spacingAndGlyphs">49</text>
<g>
<path d="M343.3,390.05 C344.51,391.25 352.96,399.64 355.38,402.04 C357.8,404.44 365.04,412.7 367.46,414.03 C369.88,415.36 377.12,415.19 379.54,415.34 C381.96,415.49 389.2,415.58 391.62,415.56 C394.04,415.53 402.49,415.16 403.7,415.12 L403.7,415.67 C402.49,415.71 394.04,416.06 391.62,416.1 C389.2,416.14 381.96,416.13 379.54,416.1 C377.12,416.07 369.88,416.14 367.46,415.77 C365.04,415.4 357.8,413.66 355.38,412.4 C352.96,411.13 344.51,404.06 343.3,403.13 Z" fill="#97a3cf" stroke="none"/>
<path d="M343.3,390.05 C344.51,391.25 352.96,399.64 355.38,402.04 C357.8,404.44 365.04,412.7 367.46,414.03 C369.88,415.36 377.12,415.19 379.54,415.34 C381.96,415.49 389.2,415.58 391.62,415.56 C394.04,415.53 402.49,415.16 403.7,415.12" fill="none" stroke="#262626" stroke-width="1.05" stroke-dasharray="1.8,1.4"/>
<path d="M343.3,403.13 C344.51,404.06 352.96,411.13 355.38,412.4 C357.8,413.66 365.04,415.4 367.46,415.77 C369.88,416.14 377.12,416.07 379.54,416.1 C381.96,416.13 389.2,416.14 391.62,416.1 C394.04,416.06 402.49,415.71 403.7,415.67" fill="none" stroke="#262626" stroke-width="1.05" stroke-dasharray="1.8,1.4"/>
<path d="M343.3,396.05 C344.51,397.19 352.96,405.6 355.38,407.49 C357.8,409.38 365.04,414.07 367.46,414.9 C369.88,415.73 377.12,415.68 379.54,415.77 C381.96,415.87 389.2,415.92 391.62,415.88 C394.04,415.84 402.49,415.44 403.7,415.39" fill="none" stroke="#2c4a8e" stroke-width="0.9"/>
</g>
<line x1="442.3" y1="380.1" x2="442.3" y2="420.4" stroke="#1a1a1a" stroke-width="1.2"/>
<line x1="439.5" y1="417.9" x2="442.3" y2="417.9" stroke="#1a1a1a" stroke-width="1"/>
<text x="436.4" y="420.9" font-size="8.3" fill="#333" text-anchor="end" textLength="4.3" lengthAdjust="spacingAndGlyphs">0</text>
<line x1="439.5" y1="409.05" x2="442.3" y2="409.05" stroke="#1a1a1a" stroke-width="1"/>
<text x="436.4" y="412.05" font-size="8.3" fill="#333" text-anchor="end" textLength="8.6" lengthAdjust="spacingAndGlyphs">30</text>
<line x1="439.5" y1="400.2" x2="442.3" y2="400.2" stroke="#1a1a1a" stroke-width="1"/>
<text x="436.4" y="403.2" font-size="8.3" fill="#333" text-anchor="end" textLength="8.6" lengthAdjust="spacingAndGlyphs">60</text>
<line x1="439.5" y1="391.35" x2="442.3" y2="391.35" stroke="#1a1a1a" stroke-width="1"/>
<text x="436.4" y="394.35" font-size="8.3" fill="#333" text-anchor="end" textLength="8.6" lengthAdjust="spacingAndGlyphs">90</text>
<line x1="439.5" y1="382.5" x2="442.3" y2="382.5" stroke="#1a1a1a" stroke-width="1"/>
<text x="436.4" y="385.5" font-size="8.3" fill="#333" text-anchor="end" textLength="12.9" lengthAdjust="spacingAndGlyphs">120</text>
<line x1="445.3" y1="423.5" x2="511" y2="423.5" stroke="#1a1a1a" stroke-width="1.5"/>
<line x1="448.3" y1="423.5" x2="448.3" y2="426.3" stroke="#1a1a1a" stroke-width="1"/>
<text x="448.5" y="436.9" font-size="8.6" fill="#333" text-anchor="middle" textLength="8.8" lengthAdjust="spacingAndGlyphs">14</text>
<line x1="460.3" y1="423.5" x2="460.3" y2="426.3" stroke="#1a1a1a" stroke-width="1"/>
<text x="460.5" y="436.9" font-size="8.6" fill="#333" text-anchor="middle" textLength="8.8" lengthAdjust="spacingAndGlyphs">21</text>
<line x1="472.3" y1="423.5" x2="472.3" y2="426.3" stroke="#1a1a1a" stroke-width="1"/>
<text x="472.5" y="436.9" font-size="8.6" fill="#333" text-anchor="middle" textLength="8.8" lengthAdjust="spacingAndGlyphs">28</text>
<line x1="484.3" y1="423.5" x2="484.3" y2="426.3" stroke="#1a1a1a" stroke-width="1"/>
<text x="484.5" y="436.9" font-size="8.6" fill="#333" text-anchor="middle" textLength="8.8" lengthAdjust="spacingAndGlyphs">35</text>
<line x1="496.3" y1="423.5" x2="496.3" y2="426.3" stroke="#1a1a1a" stroke-width="1"/>
<text x="496.5" y="436.9" font-size="8.6" fill="#333" text-anchor="middle" textLength="8.8" lengthAdjust="spacingAndGlyphs">42</text>
<line x1="508.3" y1="423.5" x2="508.3" y2="426.3" stroke="#1a1a1a" stroke-width="1"/>
<text x="508.5" y="436.9" font-size="8.6" fill="#333" text-anchor="middle" textLength="8.8" lengthAdjust="spacingAndGlyphs">49</text>
<g>
<path d="M448.3,403.74 C449.5,404.74 457.9,412.77 460.3,413.77 C462.7,414.77 469.9,414.12 472.3,413.77 C474.7,413.42 481.9,411.23 484.3,410.23 C486.7,409.23 493.9,405.33 496.3,403.74 C498.7,402.15 507.1,395.24 508.3,394.3 L508.3,401.68 C507.1,402.29 498.7,406.78 496.3,407.87 C493.9,408.96 486.7,411.88 484.3,412.59 C481.9,413.3 474.7,414.68 472.3,414.95 C469.9,415.22 462.7,415.89 460.3,415.25 C457.9,414.6 449.5,409.14 448.3,408.46 Z" fill="#97a3cf" stroke="none"/>
<path d="M448.3,403.74 C449.5,404.74 457.9,412.77 460.3,413.77 C462.7,414.77 469.9,414.12 472.3,413.77 C474.7,413.42 481.9,411.23 484.3,410.23 C486.7,409.23 493.9,405.33 496.3,403.74 C498.7,402.15 507.1,395.24 508.3,394.3" fill="none" stroke="#262626" stroke-width="1.05" stroke-dasharray="1.8,1.4"/>
<path d="M448.3,408.46 C449.5,409.14 457.9,414.6 460.3,415.25 C462.7,415.89 469.9,415.22 472.3,414.95 C474.7,414.68 481.9,413.3 484.3,412.59 C486.7,411.88 493.9,408.96 496.3,407.87 C498.7,406.78 507.1,402.29 508.3,401.68" fill="none" stroke="#262626" stroke-width="1.05" stroke-dasharray="1.8,1.4"/>
<path d="M448.3,406.1 C449.5,406.93 457.9,413.53 460.3,414.36 C462.7,415.19 469.9,414.65 472.3,414.36 C474.7,414.06 481.9,412.27 484.3,411.41 C486.7,410.55 493.9,407.13 496.3,405.81 C498.7,404.48 507.1,398.9 508.3,398.13" fill="none" stroke="#2c4a8e" stroke-width="0.9"/>
</g>
<line x1="337.3" y1="458.5" x2="337.3" y2="499" stroke="#1a1a1a" stroke-width="1.2"/>
<line x1="334.5" y1="496" x2="337.3" y2="496" stroke="#1a1a1a" stroke-width="1"/>
<text x="330.9" y="499" font-size="8.3" fill="#333" text-anchor="end" textLength="4.3" lengthAdjust="spacingAndGlyphs">0</text>
<line x1="334.5" y1="485.1" x2="337.3" y2="485.1" stroke="#1a1a1a" stroke-width="1"/>
<text x="330.9" y="488.1" font-size="8.3" fill="#333" text-anchor="end" textLength="17.2" lengthAdjust="spacingAndGlyphs">1000</text>
<line x1="334.5" y1="474.2" x2="337.3" y2="474.2" stroke="#1a1a1a" stroke-width="1"/>
<text x="330.9" y="477.2" font-size="8.3" fill="#333" text-anchor="end" textLength="17.2" lengthAdjust="spacingAndGlyphs">2000</text>
<line x1="334.5" y1="463.3" x2="337.3" y2="463.3" stroke="#1a1a1a" stroke-width="1"/>
<text x="330.9" y="466.3" font-size="8.3" fill="#333" text-anchor="end" textLength="17.2" lengthAdjust="spacingAndGlyphs">3000</text>
<line x1="340.8" y1="501.8" x2="406" y2="501.8" stroke="#1a1a1a" stroke-width="1.5"/>
<line x1="343.7" y1="501.8" x2="343.7" y2="504.6" stroke="#1a1a1a" stroke-width="1"/>
<text x="343.9" y="515.2" font-size="8.6" fill="#333" text-anchor="middle" textLength="8.8" lengthAdjust="spacingAndGlyphs">14</text>
<line x1="355.56" y1="501.8" x2="355.56" y2="504.6" stroke="#1a1a1a" stroke-width="1"/>
<text x="355.76" y="515.2" font-size="8.6" fill="#333" text-anchor="middle" textLength="8.8" lengthAdjust="spacingAndGlyphs">21</text>
<line x1="367.42" y1="501.8" x2="367.42" y2="504.6" stroke="#1a1a1a" stroke-width="1"/>
<text x="367.62" y="515.2" font-size="8.6" fill="#333" text-anchor="middle" textLength="8.8" lengthAdjust="spacingAndGlyphs">28</text>
<line x1="379.28" y1="501.8" x2="379.28" y2="504.6" stroke="#1a1a1a" stroke-width="1"/>
<text x="379.48" y="515.2" font-size="8.6" fill="#333" text-anchor="middle" textLength="8.8" lengthAdjust="spacingAndGlyphs">35</text>
<line x1="391.14" y1="501.8" x2="391.14" y2="504.6" stroke="#1a1a1a" stroke-width="1"/>
<text x="391.34" y="515.2" font-size="8.6" fill="#333" text-anchor="middle" textLength="8.8" lengthAdjust="spacingAndGlyphs">42</text>
<line x1="403" y1="501.8" x2="403" y2="504.6" stroke="#1a1a1a" stroke-width="1"/>
<text x="403.2" y="515.2" font-size="8.6" fill="#333" text-anchor="middle" textLength="8.8" lengthAdjust="spacingAndGlyphs">49</text>
<g>
<path d="M343.7,465.48 C344.89,466.3 353.19,471.24 355.56,473.66 C357.93,476.07 365.05,487.59 367.42,489.68 C369.79,491.77 378.09,494.09 379.28,494.58 L379.28,494.91 C378.09,494.82 369.79,494.64 367.42,494.04 C365.05,493.44 357.93,491.77 355.56,488.92 C353.19,486.06 344.89,467.82 343.7,465.48 Z" fill="#d9968a" stroke="none"/>
<path d="M343.7,465.48 C344.89,466.3 353.19,471.24 355.56,473.66 C357.93,476.07 365.05,487.59 367.42,489.68 C369.79,491.77 378.09,494.09 379.28,494.58" fill="none" stroke="#262626" stroke-width="1.05" stroke-dasharray="1.8,1.4"/>
<path d="M343.7,465.48 C344.89,467.82 353.19,486.06 355.56,488.92 C357.93,491.77 365.05,493.44 367.42,494.04 C369.79,494.64 378.09,494.82 379.28,494.91" fill="none" stroke="#262626" stroke-width="1.05" stroke-dasharray="1.8,1.4"/>
<path d="M343.7,465.48 C344.89,467.01 353.19,478.1 355.56,480.74 C357.93,483.38 365.05,490.46 367.42,491.86 C369.79,493.26 378.09,494.46 379.28,494.75" fill="none" stroke="#c0163c" stroke-width="0.9"/>
</g>
<polyline points="379.28,494.8 391.14,495.02 403,495.02" fill="none" stroke="#e4a3b3" stroke-width="1.3"/>
<line x1="442.3" y1="458.5" x2="442.3" y2="499" stroke="#1a1a1a" stroke-width="1.2"/>
<line x1="439.5" y1="495.9" x2="442.3" y2="495.9" stroke="#1a1a1a" stroke-width="1"/>
<text x="436.4" y="498.9" font-size="8.3" fill="#333" text-anchor="end" textLength="4.3" lengthAdjust="spacingAndGlyphs">0</text>
<line x1="439.5" y1="487.2" x2="442.3" y2="487.2" stroke="#1a1a1a" stroke-width="1"/>
<text x="436.4" y="490.2" font-size="8.3" fill="#333" text-anchor="end" textLength="8.6" lengthAdjust="spacingAndGlyphs">30</text>
<line x1="439.5" y1="478.5" x2="442.3" y2="478.5" stroke="#1a1a1a" stroke-width="1"/>
<text x="436.4" y="481.5" font-size="8.3" fill="#333" text-anchor="end" textLength="8.6" lengthAdjust="spacingAndGlyphs">60</text>
<line x1="439.5" y1="469.8" x2="442.3" y2="469.8" stroke="#1a1a1a" stroke-width="1"/>
<text x="436.4" y="472.8" font-size="8.3" fill="#333" text-anchor="end" textLength="8.6" lengthAdjust="spacingAndGlyphs">90</text>
<line x1="439.5" y1="461.1" x2="442.3" y2="461.1" stroke="#1a1a1a" stroke-width="1"/>
<text x="436.4" y="464.1" font-size="8.3" fill="#333" text-anchor="end" textLength="12.9" lengthAdjust="spacingAndGlyphs">120</text>
<line x1="445.3" y1="502.1" x2="511" y2="502.1" stroke="#1a1a1a" stroke-width="1.5"/>
<line x1="448.3" y1="502.1" x2="448.3" y2="504.9" stroke="#1a1a1a" stroke-width="1"/>
<text x="448.5" y="515.5" font-size="8.6" fill="#333" text-anchor="middle" textLength="8.8" lengthAdjust="spacingAndGlyphs">14</text>
<line x1="460.3" y1="502.1" x2="460.3" y2="504.9" stroke="#1a1a1a" stroke-width="1"/>
<text x="460.5" y="515.5" font-size="8.6" fill="#333" text-anchor="middle" textLength="8.8" lengthAdjust="spacingAndGlyphs">21</text>
<line x1="472.3" y1="502.1" x2="472.3" y2="504.9" stroke="#1a1a1a" stroke-width="1"/>
<text x="472.5" y="515.5" font-size="8.6" fill="#333" text-anchor="middle" textLength="8.8" lengthAdjust="spacingAndGlyphs">28</text>
<line x1="484.3" y1="502.1" x2="484.3" y2="504.9" stroke="#1a1a1a" stroke-width="1"/>
<text x="484.5" y="515.5" font-size="8.6" fill="#333" text-anchor="middle" textLength="8.8" lengthAdjust="spacingAndGlyphs">35</text>
<line x1="496.3" y1="502.1" x2="496.3" y2="504.9" stroke="#1a1a1a" stroke-width="1"/>
<text x="496.5" y="515.5" font-size="8.6" fill="#333" text-anchor="middle" textLength="8.8" lengthAdjust="spacingAndGlyphs">42</text>
<line x1="508.3" y1="502.1" x2="508.3" y2="504.9" stroke="#1a1a1a" stroke-width="1"/>
<text x="508.5" y="515.5" font-size="8.6" fill="#333" text-anchor="middle" textLength="8.8" lengthAdjust="spacingAndGlyphs">49</text>
<g>
<path d="M448.3,494.74 C449.5,494.62 457.9,493.67 460.3,493.58 C462.7,493.49 469.9,494.71 472.3,493.87 C474.7,493.03 481.9,486.94 484.3,485.17 C486.7,483.4 495.1,477.08 496.3,476.18 L496.3,477.92 C495.1,478.99 486.7,486.94 484.3,488.65 C481.9,490.36 474.7,494.36 472.3,495.03 C469.9,495.7 462.7,495.26 460.3,495.32 C457.9,495.38 449.5,495.58 448.3,495.61 Z" fill="#d9968a" stroke="none"/>
<path d="M448.3,494.74 C449.5,494.62 457.9,493.67 460.3,493.58 C462.7,493.49 469.9,494.71 472.3,493.87 C474.7,493.03 481.9,486.94 484.3,485.17 C486.7,483.4 495.1,477.08 496.3,476.18" fill="none" stroke="#2a2a2a" stroke-width="1.05" stroke-dasharray="1.8,1.4"/>
<path d="M448.3,495.61 C449.5,495.58 457.9,495.38 460.3,495.32 C462.7,495.26 469.9,495.7 472.3,495.03 C474.7,494.36 481.9,490.36 484.3,488.65 C486.7,486.94 495.1,478.99 496.3,477.92" fill="none" stroke="#2a2a2a" stroke-width="1.05" stroke-dasharray="1.8,1.4"/>
<path d="M448.3,495.32 C449.5,495.23 457.9,494.54 460.3,494.45 C462.7,494.36 469.9,495.18 472.3,494.45 C474.7,493.72 481.9,488.94 484.3,487.2 C486.7,485.46 495.1,478.06 496.3,477.05" fill="none" stroke="#c0163c" stroke-width="0.9"/>
</g>
<polyline points="484.3,487.2 496.3,477.05 508.3,459.65" fill="none" stroke="#c0163c" stroke-width="0.9"/>
<defs><clipPath id="c3"><rect x="338" y="537.7" width="70" height="44"/></clipPath></defs>
<line x1="337.7" y1="537.7" x2="337.7" y2="579.2" stroke="#1a1a1a" stroke-width="1.2"/>
<line x1="334.9" y1="578" x2="337.7" y2="578" stroke="#1a1a1a" stroke-width="1"/>
<text x="330.9" y="581" font-size="8.3" fill="#333" text-anchor="end" textLength="4.3" lengthAdjust="spacingAndGlyphs">0</text>
<line x1="334.9" y1="566.5" x2="337.7" y2="566.5" stroke="#1a1a1a" stroke-width="1"/>
<text x="330.9" y="569.5" font-size="8.3" fill="#333" text-anchor="end" textLength="17.2" lengthAdjust="spacingAndGlyphs">1000</text>
<line x1="334.9" y1="555" x2="337.7" y2="555" stroke="#1a1a1a" stroke-width="1"/>
<text x="330.9" y="558" font-size="8.3" fill="#333" text-anchor="end" textLength="17.2" lengthAdjust="spacingAndGlyphs">2000</text>
<line x1="334.9" y1="543.5" x2="337.7" y2="543.5" stroke="#1a1a1a" stroke-width="1"/>
<text x="330.9" y="546.5" font-size="8.3" fill="#333" text-anchor="end" textLength="17.2" lengthAdjust="spacingAndGlyphs">3000</text>
<line x1="339.2" y1="582" x2="406.5" y2="582" stroke="#1a1a1a" stroke-width="1.5"/>
<line x1="341.5" y1="582" x2="341.5" y2="584.8" stroke="#1a1a1a" stroke-width="1"/>
<text x="341.7" y="595.4" font-size="8.6" fill="#333" text-anchor="middle" textLength="8.8" lengthAdjust="spacingAndGlyphs">14</text>
<line x1="353.9" y1="582" x2="353.9" y2="584.8" stroke="#1a1a1a" stroke-width="1"/>
<text x="354.1" y="595.4" font-size="8.6" fill="#333" text-anchor="middle" textLength="8.8" lengthAdjust="spacingAndGlyphs">21</text>
<line x1="366.3" y1="582" x2="366.3" y2="584.8" stroke="#1a1a1a" stroke-width="1"/>
<text x="366.5" y="595.4" font-size="8.6" fill="#333" text-anchor="middle" textLength="8.8" lengthAdjust="spacingAndGlyphs">28</text>
<line x1="378.7" y1="582" x2="378.7" y2="584.8" stroke="#1a1a1a" stroke-width="1"/>
<text x="378.9" y="595.4" font-size="8.6" fill="#333" text-anchor="middle" textLength="8.8" lengthAdjust="spacingAndGlyphs">35</text>
<line x1="391.1" y1="582" x2="391.1" y2="584.8" stroke="#1a1a1a" stroke-width="1"/>
<text x="391.3" y="595.4" font-size="8.6" fill="#333" text-anchor="middle" textLength="8.8" lengthAdjust="spacingAndGlyphs">42</text>
<line x1="403.5" y1="582" x2="403.5" y2="584.8" stroke="#1a1a1a" stroke-width="1"/>
<text x="403.7" y="595.4" font-size="8.6" fill="#333" text-anchor="middle" textLength="8.8" lengthAdjust="spacingAndGlyphs">49</text>
<g clip-path="url(#c3)">
<path d="M341.5,536.6 C342,537.57 352.91,559.5 353.9,560.75 C354.89,562 365.31,567.36 366.3,567.88 C367.29,568.4 377.71,573.36 378.7,573.63 C379.69,573.9 390.11,575.2 391.1,574.55 C392.09,573.9 403,557.99 403.5,557.3 L403.5,576.97 C403,576.97 392.09,576.97 391.1,576.97 C390.11,576.97 379.69,576.97 378.7,576.97 C377.71,576.97 367.29,577.45 366.3,576.97 C365.31,576.48 354.89,565.88 353.9,564.77 C352.91,563.67 342,549.87 341.5,549.25 Z" fill="#a58cc0" stroke="none"/>
<path d="M341.5,536.6 C342,537.57 352.91,559.5 353.9,560.75 C354.89,562 365.31,567.36 366.3,567.88 C367.29,568.4 377.71,573.36 378.7,573.63 C379.69,573.9 390.11,575.2 391.1,574.55 C392.09,573.9 403,557.99 403.5,557.3" fill="none" stroke="#262626" stroke-width="1.05" stroke-dasharray="1.8,1.4"/>
<path d="M341.5,549.25 C342,549.87 352.91,563.67 353.9,564.77 C354.89,565.88 365.31,576.48 366.3,576.97 C367.29,577.45 377.71,576.97 378.7,576.97 C379.69,576.97 390.11,576.97 391.1,576.97 C392.09,576.97 403,576.97 403.5,576.97" fill="none" stroke="#262626" stroke-width="1.05" stroke-dasharray="1.8,1.4"/>
<path d="M341.5,543.5 C342,544.26 352.91,561.33 353.9,562.48 C354.89,563.62 365.31,571.76 366.3,572.25 C367.29,572.74 377.71,574.69 378.7,574.78 C379.69,574.87 390.11,574.88 391.1,574.55 C392.09,574.22 403,566.82 403.5,566.5" fill="none" stroke="#5b2d82" stroke-width="0.9"/>
</g>
<line x1="442.3" y1="538.5" x2="442.3" y2="579.2" stroke="#1a1a1a" stroke-width="1.2"/>
<line x1="439.5" y1="577.9" x2="442.3" y2="577.9" stroke="#1a1a1a" stroke-width="1"/>
<text x="436.4" y="580.9" font-size="8.3" fill="#333" text-anchor="end" textLength="4.3" lengthAdjust="spacingAndGlyphs">0</text>
<line x1="439.5" y1="569.35" x2="442.3" y2="569.35" stroke="#1a1a1a" stroke-width="1"/>
<text x="436.4" y="572.35" font-size="8.3" fill="#333" text-anchor="end" textLength="8.6" lengthAdjust="spacingAndGlyphs">30</text>
<line x1="439.5" y1="560.8" x2="442.3" y2="560.8" stroke="#1a1a1a" stroke-width="1"/>
<text x="436.4" y="563.8" font-size="8.3" fill="#333" text-anchor="end" textLength="8.6" lengthAdjust="spacingAndGlyphs">60</text>
<line x1="439.5" y1="552.25" x2="442.3" y2="552.25" stroke="#1a1a1a" stroke-width="1"/>
<text x="436.4" y="555.25" font-size="8.3" fill="#333" text-anchor="end" textLength="8.6" lengthAdjust="spacingAndGlyphs">90</text>
<line x1="439.5" y1="543.7" x2="442.3" y2="543.7" stroke="#1a1a1a" stroke-width="1"/>
<text x="436.4" y="546.7" font-size="8.3" fill="#333" text-anchor="end" textLength="12.9" lengthAdjust="spacingAndGlyphs">120</text>
<line x1="444.9" y1="582.1" x2="511" y2="582.1" stroke="#1a1a1a" stroke-width="1.5"/>
<line x1="447.6" y1="582.1" x2="447.6" y2="584.9" stroke="#1a1a1a" stroke-width="1"/>
<text x="447.8" y="595.5" font-size="8.6" fill="#333" text-anchor="middle" textLength="8.8" lengthAdjust="spacingAndGlyphs">14</text>
<line x1="459.74" y1="582.1" x2="459.74" y2="584.9" stroke="#1a1a1a" stroke-width="1"/>
<text x="459.94" y="595.5" font-size="8.6" fill="#333" text-anchor="middle" textLength="8.8" lengthAdjust="spacingAndGlyphs">21</text>
<line x1="471.88" y1="582.1" x2="471.88" y2="584.9" stroke="#1a1a1a" stroke-width="1"/>
<text x="472.08" y="595.5" font-size="8.6" fill="#333" text-anchor="middle" textLength="8.8" lengthAdjust="spacingAndGlyphs">28</text>
<line x1="484.02" y1="582.1" x2="484.02" y2="584.9" stroke="#1a1a1a" stroke-width="1"/>
<text x="484.22" y="595.5" font-size="8.6" fill="#333" text-anchor="middle" textLength="8.8" lengthAdjust="spacingAndGlyphs">35</text>
<line x1="496.16" y1="582.1" x2="496.16" y2="584.9" stroke="#1a1a1a" stroke-width="1"/>
<text x="496.36" y="595.5" font-size="8.6" fill="#333" text-anchor="middle" textLength="8.8" lengthAdjust="spacingAndGlyphs">42</text>
<line x1="508.3" y1="582.1" x2="508.3" y2="584.9" stroke="#1a1a1a" stroke-width="1"/>
<text x="508.5" y="595.5" font-size="8.6" fill="#333" text-anchor="middle" textLength="8.8" lengthAdjust="spacingAndGlyphs">49</text>
<g>
<path d="M447.6,569.35 C448.81,569.75 457.31,572.88 459.74,573.34 C462.17,573.8 469.45,573.97 471.88,573.91 C474.31,573.85 481.59,573.23 484.02,572.77 C486.45,572.31 493.73,571.12 496.16,569.35 C498.59,567.58 507.09,556.52 508.3,555.1 L508.3,562.23 C507.09,563.22 498.59,570.97 496.16,572.2 C493.73,573.43 486.45,574.11 484.02,574.48 C481.59,574.85 474.31,575.65 471.88,575.9 C469.45,576.16 462.17,576.99 459.74,577.04 C457.31,577.1 448.81,576.53 447.6,576.48 Z" fill="#a58cc0" stroke="none"/>
<path d="M447.6,569.35 C448.81,569.75 457.31,572.88 459.74,573.34 C462.17,573.8 469.45,573.97 471.88,573.91 C474.31,573.85 481.59,573.23 484.02,572.77 C486.45,572.31 493.73,571.12 496.16,569.35 C498.59,567.58 507.09,556.52 508.3,555.1" fill="none" stroke="#262626" stroke-width="1.05" stroke-dasharray="1.8,1.4"/>
<path d="M447.6,576.48 C448.81,576.53 457.31,577.1 459.74,577.04 C462.17,576.99 469.45,576.16 471.88,575.9 C474.31,575.65 481.59,574.85 484.02,574.48 C486.45,574.11 493.73,573.43 496.16,572.2 C498.59,570.97 507.09,563.22 508.3,562.23" fill="none" stroke="#262626" stroke-width="1.05" stroke-dasharray="1.8,1.4"/>
<path d="M447.6,573.05 C448.81,573.28 457.31,575.14 459.74,575.34 C462.17,575.53 469.45,575.22 471.88,575.05 C474.31,574.88 481.59,574.05 484.02,573.62 C486.45,573.2 493.73,572.29 496.16,570.77 C498.59,569.26 507.09,559.75 508.3,558.52" fill="none" stroke="#5b2d82" stroke-width="0.9"/>
</g>
<line x1="337.3" y1="617" x2="337.3" y2="658" stroke="#1a1a1a" stroke-width="1.2"/>
<line x1="334.5" y1="656.1" x2="337.3" y2="656.1" stroke="#1a1a1a" stroke-width="1"/>
<text x="330.9" y="659.1" font-size="8.3" fill="#333" text-anchor="end" textLength="4.3" lengthAdjust="spacingAndGlyphs">0</text>
<line x1="334.5" y1="644.77" x2="337.3" y2="644.77" stroke="#1a1a1a" stroke-width="1"/>
<text x="330.9" y="647.77" font-size="8.3" fill="#333" text-anchor="end" textLength="17.2" lengthAdjust="spacingAndGlyphs">1000</text>
<line x1="334.5" y1="633.43" x2="337.3" y2="633.43" stroke="#1a1a1a" stroke-width="1"/>
<text x="330.9" y="636.43" font-size="8.3" fill="#333" text-anchor="end" textLength="17.2" lengthAdjust="spacingAndGlyphs">2000</text>
<line x1="334.5" y1="622.1" x2="337.3" y2="622.1" stroke="#1a1a1a" stroke-width="1"/>
<text x="330.9" y="625.1" font-size="8.3" fill="#333" text-anchor="end" textLength="17.2" lengthAdjust="spacingAndGlyphs">3000</text>
<line x1="338.3" y1="660.1" x2="406" y2="660.1" stroke="#1a1a1a" stroke-width="1.5"/>
<line x1="341.4" y1="660.1" x2="341.4" y2="662.9" stroke="#1a1a1a" stroke-width="1"/>
<text x="341.6" y="673.5" font-size="8.6" fill="#333" text-anchor="middle" textLength="8.8" lengthAdjust="spacingAndGlyphs">14</text>
<line x1="353.8" y1="660.1" x2="353.8" y2="662.9" stroke="#1a1a1a" stroke-width="1"/>
<text x="354" y="673.5" font-size="8.6" fill="#333" text-anchor="middle" textLength="8.8" lengthAdjust="spacingAndGlyphs">21</text>
<line x1="366.2" y1="660.1" x2="366.2" y2="662.9" stroke="#1a1a1a" stroke-width="1"/>
<text x="366.4" y="673.5" font-size="8.6" fill="#333" text-anchor="middle" textLength="8.8" lengthAdjust="spacingAndGlyphs">28</text>
<line x1="378.6" y1="660.1" x2="378.6" y2="662.9" stroke="#1a1a1a" stroke-width="1"/>
<text x="378.8" y="673.5" font-size="8.6" fill="#333" text-anchor="middle" textLength="8.8" lengthAdjust="spacingAndGlyphs">35</text>
<line x1="391" y1="660.1" x2="391" y2="662.9" stroke="#1a1a1a" stroke-width="1"/>
<text x="391.2" y="673.5" font-size="8.6" fill="#333" text-anchor="middle" textLength="8.8" lengthAdjust="spacingAndGlyphs">42</text>
<line x1="403.4" y1="660.1" x2="403.4" y2="662.9" stroke="#1a1a1a" stroke-width="1"/>
<text x="403.6" y="673.5" font-size="8.6" fill="#333" text-anchor="middle" textLength="8.8" lengthAdjust="spacingAndGlyphs">49</text>
<polyline points="341.4,650.43 353.8,649.53 366.2,650.66 378.6,651.57 391,651.79 403.4,639.67" fill="none" stroke="#8cc27a" stroke-width="1.0"/>
<line x1="442.3" y1="616.5" x2="442.3" y2="658" stroke="#1a1a1a" stroke-width="1.2"/>
<line x1="439.5" y1="656.2" x2="442.3" y2="656.2" stroke="#1a1a1a" stroke-width="1"/>
<text x="436.4" y="659.2" font-size="8.3" fill="#333" text-anchor="end" textLength="4.3" lengthAdjust="spacingAndGlyphs">0</text>
<line x1="439.5" y1="647.53" x2="442.3" y2="647.53" stroke="#1a1a1a" stroke-width="1"/>
<text x="436.4" y="650.53" font-size="8.3" fill="#333" text-anchor="end" textLength="8.6" lengthAdjust="spacingAndGlyphs">30</text>
<line x1="439.5" y1="638.85" x2="442.3" y2="638.85" stroke="#1a1a1a" stroke-width="1"/>
<text x="436.4" y="641.85" font-size="8.3" fill="#333" text-anchor="end" textLength="8.6" lengthAdjust="spacingAndGlyphs">60</text>
<line x1="439.5" y1="630.17" x2="442.3" y2="630.17" stroke="#1a1a1a" stroke-width="1"/>
<text x="436.4" y="633.17" font-size="8.3" fill="#333" text-anchor="end" textLength="8.6" lengthAdjust="spacingAndGlyphs">90</text>
<line x1="439.5" y1="621.5" x2="442.3" y2="621.5" stroke="#1a1a1a" stroke-width="1"/>
<text x="436.4" y="624.5" font-size="8.3" fill="#333" text-anchor="end" textLength="12.9" lengthAdjust="spacingAndGlyphs">120</text>
<line x1="443.9" y1="659.7" x2="512" y2="659.7" stroke="#1a1a1a" stroke-width="1.5"/>
<line x1="447.3" y1="659.7" x2="447.3" y2="662.5" stroke="#1a1a1a" stroke-width="1"/>
<text x="447.5" y="673.1" font-size="8.6" fill="#333" text-anchor="middle" textLength="8.8" lengthAdjust="spacingAndGlyphs">14</text>
<line x1="459.54" y1="659.7" x2="459.54" y2="662.5" stroke="#1a1a1a" stroke-width="1"/>
<text x="459.74" y="673.1" font-size="8.6" fill="#333" text-anchor="middle" textLength="8.8" lengthAdjust="spacingAndGlyphs">21</text>
<line x1="471.78" y1="659.7" x2="471.78" y2="662.5" stroke="#1a1a1a" stroke-width="1"/>
<text x="471.98" y="673.1" font-size="8.6" fill="#333" text-anchor="middle" textLength="8.8" lengthAdjust="spacingAndGlyphs">28</text>
<line x1="484.02" y1="659.7" x2="484.02" y2="662.5" stroke="#1a1a1a" stroke-width="1"/>
<text x="484.22" y="673.1" font-size="8.6" fill="#333" text-anchor="middle" textLength="8.8" lengthAdjust="spacingAndGlyphs">35</text>
<line x1="496.26" y1="659.7" x2="496.26" y2="662.5" stroke="#1a1a1a" stroke-width="1"/>
<text x="496.46" y="673.1" font-size="8.6" fill="#333" text-anchor="middle" textLength="8.8" lengthAdjust="spacingAndGlyphs">42</text>
<line x1="508.5" y1="659.7" x2="508.5" y2="662.5" stroke="#1a1a1a" stroke-width="1"/>
<text x="508.7" y="673.1" font-size="8.6" fill="#333" text-anchor="middle" textLength="8.8" lengthAdjust="spacingAndGlyphs">49</text>
<polyline points="447.3,642.32 459.54,644.63 471.78,648.1 484.02,647.53 496.26,648.68" fill="none" stroke="#8cc27a" stroke-width="1.0"/>
</svg></body></html>
